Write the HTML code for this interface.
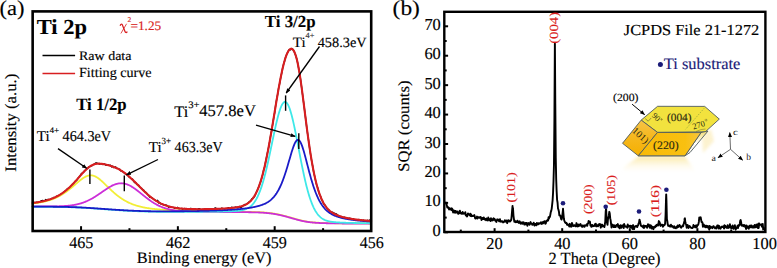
<!DOCTYPE html>
<html><head><meta charset="utf-8"><style>html,body{margin:0;padding:0;background:#fff;}svg{display:block;text-rendering:geometricPrecision;}</style></head><body>
<svg width="777" height="268" viewBox="0 0 777 268">
<defs><marker id="ah" viewBox="0 0 10 10" refX="9" refY="5" markerWidth="5" markerHeight="5" orient="auto" markerUnits="userSpaceOnUse"><path d="M0 1 L10 5 L0 9 z" fill="#000"/></marker><filter id="bl" x="-0.2" y="-0.2" width="1.4" height="1.4"><feGaussianBlur stdDeviation="1.6"/></filter><linearGradient id="refl" gradientUnits="userSpaceOnUse" x1="0" y1="156" x2="0" y2="174"><stop offset="0" stop-color="#fbe7a0" stop-opacity="1"/><stop offset="1" stop-color="#ffffff" stop-opacity="0"/></linearGradient><linearGradient id="lf" x1="0" y1="0" x2="0" y2="1"><stop offset="0" stop-color="#f7c448"/><stop offset="0.45" stop-color="#f6b820"/><stop offset="1" stop-color="#f5b000"/></linearGradient><linearGradient id="ff" x1="0" y1="0" x2="1" y2="0"><stop offset="0" stop-color="#f8ba08"/><stop offset="0.75" stop-color="#f9c010"/><stop offset="1" stop-color="#f7c640"/></linearGradient><linearGradient id="rf" x1="0" y1="0" x2="0" y2="1"><stop offset="0" stop-color="#f3dc70"/><stop offset="0.5" stop-color="#ffffff"/><stop offset="1" stop-color="#f5f0e0"/></linearGradient></defs>
<rect width="777" height="268" fill="#fff"/>
<g fill="none" stroke-linejoin="round" stroke-linecap="round">
<path d="M32.65 203.00L33.65 202.75L34.65 202.54L35.65 202.63L36.65 202.24L37.65 202.53L38.65 202.19L39.65 201.96L40.65 201.18L41.65 200.73L42.65 200.55L43.65 200.59L44.65 200.99L45.65 199.53L46.65 200.37L47.65 199.42L48.65 199.36L49.65 199.95L50.65 199.12L51.65 198.50L52.65 198.42L53.65 197.40L54.65 198.13L55.65 197.43L56.65 196.26L57.65 196.37L58.65 195.51L59.65 194.81L60.65 194.25L61.65 194.27L62.65 193.04L63.65 192.29L64.65 191.22L65.65 191.10L66.65 189.28L67.65 189.31L68.65 187.92L69.65 187.77L70.65 186.10L71.65 185.14L72.65 184.04L73.65 183.34L74.65 182.01L75.65 181.00L76.65 180.41L77.65 178.75L78.65 177.46L79.65 176.47L80.65 174.76L81.65 173.45L82.65 172.97L83.65 172.11L84.65 170.62L85.65 170.09L86.65 168.98L87.65 168.50L88.65 166.92L89.65 166.67L90.65 166.12L91.65 165.87L92.65 164.99L93.65 164.49L94.65 163.71L95.65 163.02L96.65 163.02L97.65 163.32L98.65 163.72L99.65 164.24L100.65 163.70L101.65 163.76L102.65 164.47L103.65 164.12L104.65 164.05L105.65 165.12L106.65 165.23L107.65 164.73L108.65 165.07L109.65 165.44L110.65 165.30L111.65 166.99L112.65 166.12L113.65 167.59L114.65 167.25L115.65 166.97L116.65 168.19L117.65 168.34L118.65 168.94L119.65 169.22L120.65 170.89L121.65 171.03L122.65 171.34L123.65 172.51L124.65 172.87L125.65 174.23L126.65 174.66L127.65 174.69L128.65 176.60L129.65 177.29L130.65 178.33L131.65 178.69L132.65 179.28L133.65 181.04L134.65 182.65L135.65 182.28L136.65 184.17L137.65 184.80L138.65 185.07L139.65 186.94L140.65 187.71L141.65 188.42L142.65 189.72L143.65 190.02L144.65 191.68L145.65 192.19L146.65 193.10L147.65 194.52L148.65 195.45L149.65 197.04L150.65 197.34L151.65 197.71L152.65 198.26L153.65 199.15L154.65 199.74L155.65 200.52L156.65 200.85L157.65 200.29L158.65 202.92L159.65 202.32L160.65 203.86L161.65 203.85L162.65 204.29L163.65 204.94L164.65 204.61L165.65 205.14L166.65 205.21L167.65 206.09L168.65 207.16L169.65 206.45L170.65 207.08L171.65 207.25L172.65 207.38L173.65 207.42L174.65 208.25L175.65 207.87L176.65 207.78L177.65 207.34L178.65 208.72L179.65 208.69L180.65 208.59L181.65 208.49L182.65 209.35L183.65 208.71L184.65 208.52L185.65 209.09L186.65 208.76L187.65 208.93L188.65 208.83L189.65 208.94L190.65 208.35L191.65 208.71L192.65 208.77L193.65 209.83L194.65 208.89L195.65 209.17L196.65 209.39L197.65 209.07L198.65 208.72L199.65 208.63L200.65 209.77L201.65 209.67L202.65 209.30L203.65 210.05L204.65 208.90L205.65 209.17L206.65 209.57L207.65 208.74L208.65 209.23L209.65 209.18L210.65 208.93L211.65 209.13L212.65 209.23L213.65 209.24L214.65 208.19L215.65 208.04L216.65 209.26L217.65 208.77L218.65 208.63L219.65 209.04L220.65 208.80L221.65 208.13L222.65 208.52L223.65 208.60L224.65 208.98L225.65 208.91L226.65 208.58L227.65 208.10L228.65 207.62L229.65 208.47L230.65 208.12L231.65 207.15L232.65 207.90L233.65 207.54L234.65 207.67L235.65 207.02L236.65 207.50L237.65 207.72L238.65 207.53L239.65 206.57L240.65 207.60L241.65 206.90L242.65 205.94L243.65 205.33L244.65 204.52L245.65 204.76L246.65 203.84L247.65 203.41L248.65 202.34L249.65 201.42L250.65 200.91L251.65 199.16L252.65 198.32L253.65 197.60L254.65 196.31L255.65 194.03L256.65 191.51L257.65 189.55L258.65 187.12L259.65 184.36L260.65 181.82L261.65 178.07L262.65 174.80L263.65 169.81L264.65 166.95L265.65 161.50L266.65 156.75L267.65 151.89L268.65 147.27L269.65 141.73L270.65 135.32L271.65 130.88L272.65 124.21L273.65 118.14L274.65 112.86L275.65 105.25L276.65 99.37L277.65 94.47L278.65 87.78L279.65 83.56L280.65 77.97L281.65 73.33L282.65 68.22L283.65 63.80L284.65 60.94L285.65 56.97L286.65 54.46L287.65 52.37L288.65 50.19L289.65 49.49L290.65 49.72L291.65 48.48L292.65 49.11L293.65 50.58L294.65 52.82L295.65 55.37L296.65 58.43L297.65 62.97L298.65 68.31L299.65 73.46L300.65 80.01L301.65 87.57L302.65 95.25L303.65 102.91L304.65 110.70L305.65 118.63L306.65 126.55L307.65 134.14L308.65 141.20L309.65 148.39L310.65 154.82L311.65 160.80L312.65 166.00L313.65 171.78L314.65 176.35L315.65 180.86L316.65 185.03L317.65 187.47L318.65 191.34L319.65 194.48L320.65 196.34L321.65 199.83L322.65 201.46L323.65 203.90L324.65 204.73L325.65 205.99L326.65 207.78L327.65 209.21L328.65 209.77L329.65 210.97L330.65 211.71L331.65 212.43L332.65 212.19L333.65 213.50L334.65 213.30L335.65 214.28L336.65 213.98L337.65 215.81L338.65 215.51L339.65 216.47L340.65 216.39L341.65 217.05L342.65 217.53L343.65 217.42L344.65 217.29L345.65 218.17L346.65 217.90L347.65 218.27L348.65 218.36L349.65 218.12L350.65 218.64L351.65 219.36L352.65 218.63L353.65 218.90L354.65 219.80L355.65 219.69L356.65 220.06L357.65 220.21L358.65 219.45L359.65 219.63L360.65 220.17L361.65 220.19L362.65 220.67L363.65 220.15L364.65 221.45L365.65 220.56L366.65 221.30L367.65 220.25L368.65 220.97L369.65 220.10L370.65 221.21" stroke="#000" stroke-width="1.4"/>
<path d="M32.65 203.46L33.15 203.40L33.65 203.34L34.15 203.28L34.65 203.22L35.15 203.16L35.65 203.10L36.15 203.03L36.65 202.96L37.15 202.89L37.65 202.81L38.15 202.74L38.65 202.66L39.15 202.58L39.65 202.50L40.15 202.41L40.65 202.32L41.15 202.23L41.65 202.14L42.15 202.04L42.65 201.94L43.15 201.83L43.65 201.73L44.15 201.62L44.65 201.50L45.15 201.39L45.65 201.26L46.15 201.14L46.65 201.01L47.15 200.88L47.65 200.74L48.15 200.60L48.65 200.45L49.15 200.30L49.65 200.15L50.15 199.99L50.65 199.82L51.15 199.65L51.65 199.48L52.15 199.30L52.65 199.11L53.15 198.92L53.65 198.73L54.15 198.52L54.65 198.32L55.15 198.10L55.65 197.88L56.15 197.66L56.65 197.43L57.15 197.19L57.65 196.95L58.15 196.70L58.65 196.44L59.15 196.18L59.65 195.91L60.15 195.63L60.65 195.35L61.15 195.06L61.65 194.77L62.15 194.47L62.65 194.16L63.15 193.84L63.65 193.52L64.15 193.19L64.65 192.86L65.15 192.51L65.65 192.17L66.15 191.81L66.65 191.45L67.15 191.08L67.65 190.71L68.15 190.33L68.65 189.95L69.15 189.56L69.65 189.16L70.15 188.76L70.65 188.35L71.15 187.94L71.65 187.53L72.15 187.11L72.65 186.69L73.15 186.27L73.65 185.84L74.15 185.41L74.65 184.98L75.15 184.55L75.65 184.11L76.15 183.68L76.65 183.25L77.15 182.82L77.65 182.39L78.15 181.97L78.65 181.55L79.15 181.13L79.65 180.72L80.15 180.32L80.65 179.92L81.15 179.54L81.65 179.16L82.15 178.80L82.65 178.45L83.15 178.11L83.65 177.78L84.15 177.47L84.65 177.18L85.15 176.91L85.65 176.65L86.15 176.42L86.65 176.21L87.15 176.02L87.65 175.85L88.15 175.71L88.65 175.59L89.15 175.49L89.65 175.42L90.15 175.38L90.65 175.37L91.15 175.38L91.65 175.42L92.15 175.48L92.65 175.57L93.15 175.69L93.65 175.83L94.15 176.00L94.65 176.20L95.15 176.42L95.65 176.66L96.15 176.92L96.65 177.21L97.15 177.52L97.65 177.84L98.15 178.19L98.65 178.55L99.15 178.93L99.65 179.32L100.15 179.73L100.65 180.15L101.15 180.58L101.65 181.02L102.15 181.47L102.65 181.93L103.15 182.40L103.65 182.87L104.15 183.35L104.65 183.83L105.15 184.31L105.65 184.80L106.15 185.29L106.65 185.78L107.15 186.27L107.65 186.76L108.15 187.25L108.65 187.73L109.15 188.22L109.65 188.70L110.15 189.18L110.65 189.65L111.15 190.12L111.65 190.58L112.15 191.05L112.65 191.50L113.15 191.95L113.65 192.40L114.15 192.83L114.65 193.27L115.15 193.69L115.65 194.11L116.15 194.52L116.65 194.93L117.15 195.33L117.65 195.72L118.15 196.11L118.65 196.49L119.15 196.86L119.65 197.22L120.15 197.58L120.65 197.93L121.15 198.27L121.65 198.61L122.15 198.94L122.65 199.26L123.15 199.57L123.65 199.88L124.15 200.18L124.65 200.47L125.15 200.76L125.65 201.04L126.15 201.31L126.65 201.58L127.15 201.84L127.65 202.09L128.15 202.34L128.65 202.58L129.15 202.81L129.65 203.04L130.15 203.26L130.65 203.48L131.15 203.69L131.65 203.90L132.15 204.09L132.65 204.29L133.15 204.48L133.65 204.66L134.15 204.84L134.65 205.01L135.15 205.18L135.65 205.34L136.15 205.50L136.65 205.66L137.15 205.81L137.65 205.95L138.15 206.09L138.65 206.23L139.15 206.36L139.65 206.49L140.15 206.62L140.65 206.74L141.15 206.86L141.65 206.97L142.15 207.08L142.65 207.19L143.15 207.30L143.65 207.40L144.15 207.50L144.65 207.59L145.15 207.68L145.65 207.78L146.15 207.86L146.65 207.95L147.15 208.03L147.65 208.11L148.15 208.19L148.65 208.26L149.15 208.34L149.65 208.41L150.15 208.48L150.65 208.55L151.15 208.61L151.65 208.67L152.15 208.74L152.65 208.80L153.15 208.86L153.65 208.91L154.15 208.97L154.65 209.02L155.15 209.07L155.65 209.12L156.15 209.17L156.65 209.22L157.15 209.27L157.65 209.32L158.15 209.36L158.65 209.40L159.15 209.45L159.65 209.49L160.15 209.53L160.65 209.57L161.15 209.61L161.65 209.64L162.15 209.68L162.65 209.72L163.15 209.75L163.65 209.79L164.15 209.82L164.65 209.85L165.15 209.88L165.65 209.91L166.15 209.94L166.65 209.97L167.15 210.00L167.65 210.03L168.15 210.06L168.65 210.09L169.15 210.11L169.65 210.14L170.15 210.17L170.65 210.19L171.15 210.22L171.65 210.24L172.15 210.26L172.65 210.29L173.15 210.31L173.65 210.33L174.15 210.35L174.65 210.38L175.15 210.40L175.65 210.42L176.15 210.44L176.65 210.46L177.15 210.48L177.65 210.50L178.15 210.52L178.65 210.53L179.15 210.55L179.65 210.57L180.15 210.59L180.65 210.61L181.15 210.62L181.65 210.64L182.15 210.66L182.65 210.67L183.15 210.69L183.65 210.70L184.15 210.72L184.65 210.74L185.15 210.75L185.65 210.77L186.15 210.78L186.65 210.79L187.15 210.81L187.65 210.82L188.15 210.84L188.65 210.85L189.15 210.86L189.65 210.88L190.15 210.89L190.65 210.90L191.15 210.92L191.65 210.93L192.15 210.94L192.65 210.95L193.15 210.96L193.65 210.98L194.15 210.99L194.65 211.00L195.15 211.01L195.65 211.02L196.15 211.03L196.65 211.04L197.15 211.06L197.65 211.07L198.15 211.08L198.65 211.09L199.15 211.10L199.65 211.11L200.15 211.12L200.65 211.13L201.15 211.14L201.65 211.15L202.15 211.16L202.65 211.17L203.15 211.18L203.65 211.19L204.15 211.19L204.65 211.20L205.15 211.21L205.65 211.22L206.15 211.23L206.65 211.24L207.15 211.25L207.65 211.26L208.15 211.27L208.65 211.27L209.15 211.28L209.65 211.29L210.15 211.30L210.65 211.31L211.15 211.31L211.65 211.32L212.15 211.33L212.65 211.34L213.15 211.35L213.65 211.35L214.15 211.36L214.65 211.37L215.15 211.38L215.65 211.38L216.15 211.39L216.65 211.40L217.15 211.41L217.65 211.41L218.15 211.42L218.65 211.43L219.15 211.44L219.65 211.44L220.15 211.45L220.65 211.46L221.15 211.46L221.65 211.47L222.15 211.48L222.65 211.48L223.15 211.49L223.65 211.50L224.15 211.51L224.65 211.51L225.15 211.52L225.65 211.53L226.15 211.53L226.65 211.54L227.15 211.55L227.65 211.55L228.15 211.56L228.65 211.57L229.15 211.57L229.65 211.58L230.15 211.58L230.65 211.59L231.15 211.60L231.65 211.60L232.15 211.61L232.65 211.62L233.15 211.62L233.65 211.63L234.15 211.64L234.65 211.64L235.15 211.65L235.65 211.66L236.15 211.66L236.65 211.67L237.15 211.68L237.65 211.68L238.15 211.69L238.65 211.70L239.15 211.70L239.65 211.71L240.15 211.72L240.65 211.72L241.15 211.73L241.65 211.74L242.15 211.75L242.65 211.75L243.15 211.76L243.65 211.77L244.15 211.78L244.65 211.78L245.15 211.79L245.65 211.80L246.15 211.81L246.65 211.82L247.15 211.83L247.65 211.84L248.15 211.84L248.65 211.85L249.15 211.86L249.65 211.87L250.15 211.88L250.65 211.90L251.15 211.91L251.65 211.92L252.15 211.93L252.65 211.94L253.15 211.96L253.65 211.97L254.15 211.98L254.65 212.00L255.15 212.01L255.65 212.03L256.15 212.05L256.65 212.07L257.15 212.08L257.65 212.10L258.15 212.13L258.65 212.15L259.15 212.17L259.65 212.19L260.15 212.22L260.65 212.24L261.15 212.27L261.65 212.30L262.15 212.33L262.65 212.36L263.15 212.40L263.65 212.43L264.15 212.47L264.65 212.51L265.15 212.55L265.65 212.59L266.15 212.63L266.65 212.68L267.15 212.73L267.65 212.78L268.15 212.83L268.65 212.89L269.15 212.94L269.65 213.00L270.15 213.06L270.65 213.13L271.15 213.19L271.65 213.26L272.15 213.33L272.65 213.41L273.15 213.48L273.65 213.56L274.15 213.65L274.65 213.73L275.15 213.82L275.65 213.91L276.15 214.00L276.65 214.09L277.15 214.19L277.65 214.29L278.15 214.39L278.65 214.50L279.15 214.61L279.65 214.72L280.15 214.83L280.65 214.94L281.15 215.06L281.65 215.18L282.15 215.30L282.65 215.42L283.15 215.55L283.65 215.68L284.15 215.80L284.65 215.94L285.15 216.07L285.65 216.20L286.15 216.34L286.65 216.47L287.15 216.61L287.65 216.75L288.15 216.89L288.65 217.03L289.15 217.17L289.65 217.31L290.15 217.46L290.65 217.60L291.15 217.74L291.65 217.89L292.15 218.03L292.65 218.17L293.15 218.32L293.65 218.46L294.15 218.60L294.65 218.74L295.15 218.88L295.65 219.02L296.15 219.16L296.65 219.30L297.15 219.44L297.65 219.57L298.15 219.70L298.65 219.84L299.15 219.96L299.65 220.09L300.15 220.21L300.65 220.34L301.15 220.45L301.65 220.57L302.15 220.68L302.65 220.79L303.15 220.90L303.65 221.00L304.15 221.10L304.65 221.20L305.15 221.29L305.65 221.38L306.15 221.47L306.65 221.55L307.15 221.63L307.65 221.71L308.15 221.79L308.65 221.86L309.15 221.92L309.65 221.99L310.15 222.05L310.65 222.11L311.15 222.17L311.65 222.22L312.15 222.28L312.65 222.33L313.15 222.37L313.65 222.42L314.15 222.46L314.65 222.50L315.15 222.54L315.65 222.58L316.15 222.61L316.65 222.65L317.15 222.68L317.65 222.71L318.15 222.74L318.65 222.77L319.15 222.79L319.65 222.82L320.15 222.84L320.65 222.87L321.15 222.89L321.65 222.91L322.15 222.93L322.65 222.95L323.15 222.97L323.65 222.98L324.15 223.00L324.65 223.01L325.15 223.03L325.65 223.04L326.15 223.06L326.65 223.07L327.15 223.08L327.65 223.10L328.15 223.11L328.65 223.12L329.15 223.13L329.65 223.14L330.15 223.15L330.65 223.16L331.15 223.17L331.65 223.18L332.15 223.19L332.65 223.20L333.15 223.21L333.65 223.21L334.15 223.22L334.65 223.23L335.15 223.24L335.65 223.24L336.15 223.25L336.65 223.26L337.15 223.26L337.65 223.27L338.15 223.28L338.65 223.28L339.15 223.29L339.65 223.29L340.15 223.30L340.65 223.31L341.15 223.31L341.65 223.32L342.15 223.32L342.65 223.33L343.15 223.33L343.65 223.34L344.15 223.34L344.65 223.34L345.15 223.35L345.65 223.35L346.15 223.36L346.65 223.36L347.15 223.37L347.65 223.37L348.15 223.37L348.65 223.38L349.15 223.38L349.65 223.38L350.15 223.39L350.65 223.39L351.15 223.40L351.65 223.40L352.15 223.40L352.65 223.40L353.15 223.41L353.65 223.41L354.15 223.41L354.65 223.42L355.15 223.42L355.65 223.42L356.15 223.43L356.65 223.43L357.15 223.43L357.65 223.43L358.15 223.44L358.65 223.44L359.15 223.44L359.65 223.44L360.15 223.45L360.65 223.45L361.15 223.45L361.65 223.45L362.15 223.45L362.65 223.46L363.15 223.46L363.65 223.46L364.15 223.46L364.65 223.46L365.15 223.47L365.65 223.47L366.15 223.47L366.65 223.47L367.15 223.47L367.65 223.47L368.15 223.48L368.65 223.48L369.15 223.48L369.65 223.48L370.15 223.48L370.65 223.48L371.15 223.49" stroke="#f2ee36" stroke-width="1.8"/>
<path d="M32.65 206.53L33.15 206.53L33.65 206.53L34.15 206.53L34.65 206.52L35.15 206.52L35.65 206.52L36.15 206.52L36.65 206.52L37.15 206.52L37.65 206.52L38.15 206.52L38.65 206.51L39.15 206.51L39.65 206.51L40.15 206.51L40.65 206.51L41.15 206.51L41.65 206.50L42.15 206.50L42.65 206.50L43.15 206.50L43.65 206.50L44.15 206.49L44.65 206.49L45.15 206.49L45.65 206.49L46.15 206.48L46.65 206.48L47.15 206.48L47.65 206.47L48.15 206.47L48.65 206.46L49.15 206.46L49.65 206.46L50.15 206.45L50.65 206.45L51.15 206.44L51.65 206.43L52.15 206.43L52.65 206.42L53.15 206.41L53.65 206.41L54.15 206.40L54.65 206.39L55.15 206.38L55.65 206.37L56.15 206.36L56.65 206.35L57.15 206.33L57.65 206.32L58.15 206.31L58.65 206.29L59.15 206.27L59.65 206.26L60.15 206.24L60.65 206.22L61.15 206.20L61.65 206.18L62.15 206.15L62.65 206.13L63.15 206.10L63.65 206.07L64.15 206.04L64.65 206.01L65.15 205.98L65.65 205.94L66.15 205.91L66.65 205.87L67.15 205.82L67.65 205.78L68.15 205.73L68.65 205.68L69.15 205.63L69.65 205.58L70.15 205.52L70.65 205.46L71.15 205.39L71.65 205.33L72.15 205.26L72.65 205.18L73.15 205.10L73.65 205.02L74.15 204.94L74.65 204.85L75.15 204.76L75.65 204.66L76.15 204.56L76.65 204.45L77.15 204.34L77.65 204.22L78.15 204.10L78.65 203.98L79.15 203.85L79.65 203.71L80.15 203.57L80.65 203.43L81.15 203.28L81.65 203.12L82.15 202.96L82.65 202.79L83.15 202.61L83.65 202.43L84.15 202.25L84.65 202.06L85.15 201.86L85.65 201.66L86.15 201.45L86.65 201.23L87.15 201.01L87.65 200.78L88.15 200.55L88.65 200.31L89.15 200.06L89.65 199.81L90.15 199.55L90.65 199.28L91.15 199.01L91.65 198.74L92.15 198.46L92.65 198.17L93.15 197.88L93.65 197.58L94.15 197.28L94.65 196.97L95.15 196.66L95.65 196.34L96.15 196.02L96.65 195.70L97.15 195.37L97.65 195.04L98.15 194.70L98.65 194.37L99.15 194.03L99.65 193.69L100.15 193.34L100.65 193.00L101.15 192.65L101.65 192.30L102.15 191.95L102.65 191.61L103.15 191.26L103.65 190.91L104.15 190.57L104.65 190.23L105.15 189.89L105.65 189.55L106.15 189.22L106.65 188.89L107.15 188.56L107.65 188.24L108.15 187.93L108.65 187.62L109.15 187.31L109.65 187.02L110.15 186.73L110.65 186.45L111.15 186.18L111.65 185.92L112.15 185.66L112.65 185.42L113.15 185.19L113.65 184.97L114.15 184.76L114.65 184.56L115.15 184.38L115.65 184.20L116.15 184.05L116.65 183.90L117.15 183.77L117.65 183.65L118.15 183.55L118.65 183.47L119.15 183.40L119.65 183.34L120.15 183.30L120.65 183.28L121.15 183.27L121.65 183.28L122.15 183.30L122.65 183.34L123.15 183.40L123.65 183.47L124.15 183.56L124.65 183.66L125.15 183.78L125.65 183.92L126.15 184.07L126.65 184.24L127.15 184.42L127.65 184.61L128.15 184.82L128.65 185.04L129.15 185.28L129.65 185.52L130.15 185.78L130.65 186.05L131.15 186.34L131.65 186.63L132.15 186.94L132.65 187.25L133.15 187.57L133.65 187.91L134.15 188.25L134.65 188.60L135.15 188.95L135.65 189.31L136.15 189.68L136.65 190.06L137.15 190.43L137.65 190.82L138.15 191.21L138.65 191.60L139.15 191.99L139.65 192.39L140.15 192.79L140.65 193.19L141.15 193.59L141.65 193.99L142.15 194.39L142.65 194.79L143.15 195.19L143.65 195.59L144.15 195.99L144.65 196.39L145.15 196.78L145.65 197.18L146.15 197.56L146.65 197.95L147.15 198.33L147.65 198.71L148.15 199.08L148.65 199.45L149.15 199.82L149.65 200.18L150.15 200.53L150.65 200.88L151.15 201.23L151.65 201.56L152.15 201.90L152.65 202.22L153.15 202.54L153.65 202.86L154.15 203.16L154.65 203.46L155.15 203.76L155.65 204.05L156.15 204.33L156.65 204.60L157.15 204.87L157.65 205.13L158.15 205.38L158.65 205.63L159.15 205.87L159.65 206.10L160.15 206.33L160.65 206.55L161.15 206.76L161.65 206.97L162.15 207.17L162.65 207.37L163.15 207.56L163.65 207.74L164.15 207.91L164.65 208.08L165.15 208.25L165.65 208.40L166.15 208.56L166.65 208.70L167.15 208.85L167.65 208.98L168.15 209.11L168.65 209.24L169.15 209.36L169.65 209.48L170.15 209.59L170.65 209.70L171.15 209.80L171.65 209.90L172.15 209.99L172.65 210.08L173.15 210.17L173.65 210.25L174.15 210.33L174.65 210.40L175.15 210.48L175.65 210.54L176.15 210.61L176.65 210.67L177.15 210.73L177.65 210.79L178.15 210.84L178.65 210.90L179.15 210.95L179.65 210.99L180.15 211.04L180.65 211.08L181.15 211.12L181.65 211.16L182.15 211.20L182.65 211.23L183.15 211.26L183.65 211.29L184.15 211.32L184.65 211.35L185.15 211.38L185.65 211.41L186.15 211.43L186.65 211.45L187.15 211.48L187.65 211.50L188.15 211.52L188.65 211.54L189.15 211.55L189.65 211.57L190.15 211.59L190.65 211.60L191.15 211.62L191.65 211.63L192.15 211.65L192.65 211.66L193.15 211.67L193.65 211.68L194.15 211.69L194.65 211.70L195.15 211.72L195.65 211.73L196.15 211.73L196.65 211.74L197.15 211.75L197.65 211.76L198.15 211.77L198.65 211.78L199.15 211.78L199.65 211.79L200.15 211.80L200.65 211.81L201.15 211.81L201.65 211.82L202.15 211.82L202.65 211.83L203.15 211.84L203.65 211.84L204.15 211.85L204.65 211.85L205.15 211.86L205.65 211.86L206.15 211.87L206.65 211.87L207.15 211.88L207.65 211.88L208.15 211.89L208.65 211.89L209.15 211.90L209.65 211.90L210.15 211.90L210.65 211.91L211.15 211.91L211.65 211.92L212.15 211.92L212.65 211.92L213.15 211.93L213.65 211.93L214.15 211.94L214.65 211.94L215.15 211.94L215.65 211.95L216.15 211.95L216.65 211.96L217.15 211.96L217.65 211.96L218.15 211.97L218.65 211.97L219.15 211.97L219.65 211.98L220.15 211.98L220.65 211.98L221.15 211.99L221.65 211.99L222.15 211.99L222.65 212.00L223.15 212.00L223.65 212.00L224.15 212.01L224.65 212.01L225.15 212.02L225.65 212.02L226.15 212.02L226.65 212.03L227.15 212.03L227.65 212.03L228.15 212.04L228.65 212.04L229.15 212.04L229.65 212.05L230.15 212.05L230.65 212.05L231.15 212.06L231.65 212.06L232.15 212.07L232.65 212.07L233.15 212.07L233.65 212.08L234.15 212.08L234.65 212.08L235.15 212.09L235.65 212.09L236.15 212.10L236.65 212.10L237.15 212.10L237.65 212.11L238.15 212.11L238.65 212.12L239.15 212.12L239.65 212.13L240.15 212.13L240.65 212.13L241.15 212.14L241.65 212.14L242.15 212.15L242.65 212.15L243.15 212.16L243.65 212.16L244.15 212.17L244.65 212.18L245.15 212.18L245.65 212.19L246.15 212.19L246.65 212.20L247.15 212.21L247.65 212.21L248.15 212.22L248.65 212.23L249.15 212.24L249.65 212.24L250.15 212.25L250.65 212.26L251.15 212.27L251.65 212.28L252.15 212.29L252.65 212.30L253.15 212.31L253.65 212.32L254.15 212.33L254.65 212.35L255.15 212.36L255.65 212.38L256.15 212.39L256.65 212.41L257.15 212.42L257.65 212.44L258.15 212.46L258.65 212.48L259.15 212.50L259.65 212.52L260.15 212.55L260.65 212.57L261.15 212.60L261.65 212.62L262.15 212.65L262.65 212.68L263.15 212.71L263.65 212.75L264.15 212.78L264.65 212.82L265.15 212.86L265.65 212.90L266.15 212.94L266.65 212.99L267.15 213.03L267.65 213.08L268.15 213.13L268.65 213.19L269.15 213.24L269.65 213.30L270.15 213.36L270.65 213.42L271.15 213.49L271.65 213.55L272.15 213.62L272.65 213.70L273.15 213.77L273.65 213.85L274.15 213.93L274.65 214.01L275.15 214.10L275.65 214.19L276.15 214.28L276.65 214.37L277.15 214.47L277.65 214.56L278.15 214.67L278.65 214.77L279.15 214.88L279.65 214.98L280.15 215.10L280.65 215.21L281.15 215.32L281.65 215.44L282.15 215.56L282.65 215.68L283.15 215.81L283.65 215.93L284.15 216.06L284.65 216.19L285.15 216.32L285.65 216.45L286.15 216.59L286.65 216.72L287.15 216.86L287.65 217.00L288.15 217.14L288.65 217.28L289.15 217.42L289.65 217.56L290.15 217.70L290.65 217.84L291.15 217.98L291.65 218.12L292.15 218.27L292.65 218.41L293.15 218.55L293.65 218.69L294.15 218.83L294.65 218.98L295.15 219.12L295.65 219.25L296.15 219.39L296.65 219.53L297.15 219.66L297.65 219.80L298.15 219.93L298.65 220.06L299.15 220.19L299.65 220.31L300.15 220.44L300.65 220.56L301.15 220.67L301.65 220.79L302.15 220.90L302.65 221.01L303.15 221.11L303.65 221.22L304.15 221.32L304.65 221.41L305.15 221.50L305.65 221.59L306.15 221.68L306.65 221.76L307.15 221.84L307.65 221.92L308.15 221.99L308.65 222.06L309.15 222.13L309.65 222.19L310.15 222.26L310.65 222.31L311.15 222.37L311.65 222.42L312.15 222.48L312.65 222.52L313.15 222.57L313.65 222.62L314.15 222.66L314.65 222.70L315.15 222.74L315.65 222.77L316.15 222.81L316.65 222.84L317.15 222.87L317.65 222.90L318.15 222.93L318.65 222.96L319.15 222.98L319.65 223.01L320.15 223.03L320.65 223.05L321.15 223.07L321.65 223.09L322.15 223.11L322.65 223.13L323.15 223.15L323.65 223.16L324.15 223.18L324.65 223.19L325.15 223.21L325.65 223.22L326.15 223.24L326.65 223.25L327.15 223.26L327.65 223.27L328.15 223.28L328.65 223.29L329.15 223.30L329.65 223.31L330.15 223.32L330.65 223.33L331.15 223.34L331.65 223.35L332.15 223.36L332.65 223.37L333.15 223.37L333.65 223.38L334.15 223.39L334.65 223.40L335.15 223.40L335.65 223.41L336.15 223.41L336.65 223.42L337.15 223.43L337.65 223.43L338.15 223.44L338.65 223.44L339.15 223.45L339.65 223.45L340.15 223.46L340.65 223.46L341.15 223.47L341.65 223.47L342.15 223.48L342.65 223.48L343.15 223.49L343.65 223.49L344.15 223.49L344.65 223.50L345.15 223.50L345.65 223.51L346.15 223.51L346.65 223.51L347.15 223.52L347.65 223.52L348.15 223.52L348.65 223.53L349.15 223.53L349.65 223.53L350.15 223.54L350.65 223.54L351.15 223.54L351.65 223.54L352.15 223.55L352.65 223.55L353.15 223.55L353.65 223.55L354.15 223.56L354.65 223.56L355.15 223.56L355.65 223.56L356.15 223.57L356.65 223.57L357.15 223.57L357.65 223.57L358.15 223.57L358.65 223.58L359.15 223.58L359.65 223.58L360.15 223.58L360.65 223.58L361.15 223.59L361.65 223.59L362.15 223.59L362.65 223.59L363.15 223.59L363.65 223.59L364.15 223.60L364.65 223.60L365.15 223.60L365.65 223.60L366.15 223.60L366.65 223.60L367.15 223.60L367.65 223.60L368.15 223.61L368.65 223.61L369.15 223.61L369.65 223.61L370.15 223.61L370.65 223.61L371.15 223.61" stroke="#cc2ed8" stroke-width="1.8"/>
<path d="M32.65 206.74L33.15 206.74L33.65 206.74L34.15 206.74L34.65 206.74L35.15 206.74L35.65 206.75L36.15 206.75L36.65 206.75L37.15 206.75L37.65 206.75L38.15 206.76L38.65 206.76L39.15 206.76L39.65 206.76L40.15 206.77L40.65 206.77L41.15 206.77L41.65 206.77L42.15 206.78L42.65 206.78L43.15 206.78L43.65 206.78L44.15 206.79L44.65 206.79L45.15 206.79L45.65 206.80L46.15 206.80L46.65 206.81L47.15 206.81L47.65 206.81L48.15 206.82L48.65 206.82L49.15 206.83L49.65 206.83L50.15 206.83L50.65 206.84L51.15 206.84L51.65 206.85L52.15 206.85L52.65 206.86L53.15 206.87L53.65 206.87L54.15 206.88L54.65 206.88L55.15 206.89L55.65 206.90L56.15 206.90L56.65 206.91L57.15 206.92L57.65 206.92L58.15 206.93L58.65 206.94L59.15 206.95L59.65 206.96L60.15 206.96L60.65 206.97L61.15 206.98L61.65 206.99L62.15 207.00L62.65 207.01L63.15 207.02L63.65 207.03L64.15 207.04L64.65 207.05L65.15 207.07L65.65 207.08L66.15 207.09L66.65 207.10L67.15 207.12L67.65 207.13L68.15 207.14L68.65 207.16L69.15 207.17L69.65 207.19L70.15 207.20L70.65 207.22L71.15 207.23L71.65 207.25L72.15 207.27L72.65 207.28L73.15 207.30L73.65 207.32L74.15 207.34L74.65 207.36L75.15 207.38L75.65 207.40L76.15 207.42L76.65 207.44L77.15 207.46L77.65 207.48L78.15 207.51L78.65 207.53L79.15 207.55L79.65 207.58L80.15 207.60L80.65 207.63L81.15 207.65L81.65 207.68L82.15 207.70L82.65 207.73L83.15 207.76L83.65 207.79L84.15 207.82L84.65 207.84L85.15 207.87L85.65 207.90L86.15 207.93L86.65 207.96L87.15 208.00L87.65 208.03L88.15 208.06L88.65 208.09L89.15 208.12L89.65 208.16L90.15 208.19L90.65 208.22L91.15 208.26L91.65 208.29L92.15 208.33L92.65 208.36L93.15 208.40L93.65 208.43L94.15 208.47L94.65 208.50L95.15 208.54L95.65 208.58L96.15 208.61L96.65 208.65L97.15 208.68L97.65 208.72L98.15 208.76L98.65 208.79L99.15 208.83L99.65 208.87L100.15 208.90L100.65 208.94L101.15 208.97L101.65 209.01L102.15 209.05L102.65 209.08L103.15 209.12L103.65 209.16L104.15 209.19L104.65 209.23L105.15 209.27L105.65 209.30L106.15 209.34L106.65 209.37L107.15 209.41L107.65 209.44L108.15 209.48L108.65 209.52L109.15 209.55L109.65 209.59L110.15 209.62L110.65 209.66L111.15 209.69L111.65 209.73L112.15 209.76L112.65 209.80L113.15 209.83L113.65 209.87L114.15 209.90L114.65 209.94L115.15 209.97L115.65 210.00L116.15 210.04L116.65 210.07L117.15 210.10L117.65 210.14L118.15 210.17L118.65 210.20L119.15 210.24L119.65 210.27L120.15 210.30L120.65 210.33L121.15 210.37L121.65 210.40L122.15 210.43L122.65 210.46L123.15 210.49L123.65 210.52L124.15 210.55L124.65 210.58L125.15 210.61L125.65 210.64L126.15 210.67L126.65 210.70L127.15 210.73L127.65 210.76L128.15 210.78L128.65 210.81L129.15 210.84L129.65 210.87L130.15 210.89L130.65 210.92L131.15 210.94L131.65 210.97L132.15 210.99L132.65 211.02L133.15 211.04L133.65 211.07L134.15 211.09L134.65 211.11L135.15 211.14L135.65 211.16L136.15 211.18L136.65 211.20L137.15 211.22L137.65 211.24L138.15 211.26L138.65 211.28L139.15 211.30L139.65 211.32L140.15 211.34L140.65 211.36L141.15 211.38L141.65 211.39L142.15 211.41L142.65 211.43L143.15 211.44L143.65 211.46L144.15 211.47L144.65 211.49L145.15 211.50L145.65 211.52L146.15 211.53L146.65 211.54L147.15 211.56L147.65 211.57L148.15 211.58L148.65 211.59L149.15 211.60L149.65 211.61L150.15 211.63L150.65 211.64L151.15 211.65L151.65 211.66L152.15 211.66L152.65 211.67L153.15 211.68L153.65 211.69L154.15 211.70L154.65 211.71L155.15 211.71L155.65 211.72L156.15 211.73L156.65 211.73L157.15 211.74L157.65 211.75L158.15 211.75L158.65 211.76L159.15 211.76L159.65 211.77L160.15 211.77L160.65 211.78L161.15 211.78L161.65 211.79L162.15 211.79L162.65 211.79L163.15 211.80L163.65 211.80L164.15 211.80L164.65 211.81L165.15 211.81L165.65 211.81L166.15 211.81L166.65 211.82L167.15 211.82L167.65 211.82L168.15 211.82L168.65 211.82L169.15 211.83L169.65 211.83L170.15 211.83L170.65 211.83L171.15 211.83L171.65 211.83L172.15 211.83L172.65 211.83L173.15 211.83L173.65 211.83L174.15 211.83L174.65 211.83L175.15 211.83L175.65 211.83L176.15 211.83L176.65 211.83L177.15 211.83L177.65 211.83L178.15 211.83L178.65 211.83L179.15 211.83L179.65 211.83L180.15 211.83L180.65 211.83L181.15 211.83L181.65 211.83L182.15 211.83L182.65 211.82L183.15 211.82L183.65 211.82L184.15 211.82L184.65 211.82L185.15 211.82L185.65 211.82L186.15 211.82L186.65 211.81L187.15 211.81L187.65 211.81L188.15 211.81L188.65 211.81L189.15 211.80L189.65 211.80L190.15 211.80L190.65 211.80L191.15 211.80L191.65 211.79L192.15 211.79L192.65 211.79L193.15 211.79L193.65 211.78L194.15 211.78L194.65 211.78L195.15 211.78L195.65 211.77L196.15 211.77L196.65 211.77L197.15 211.76L197.65 211.76L198.15 211.76L198.65 211.75L199.15 211.75L199.65 211.75L200.15 211.74L200.65 211.74L201.15 211.74L201.65 211.73L202.15 211.73L202.65 211.73L203.15 211.72L203.65 211.72L204.15 211.71L204.65 211.71L205.15 211.71L205.65 211.70L206.15 211.70L206.65 211.69L207.15 211.69L207.65 211.68L208.15 211.68L208.65 211.67L209.15 211.67L209.65 211.66L210.15 211.66L210.65 211.65L211.15 211.65L211.65 211.64L212.15 211.64L212.65 211.63L213.15 211.62L213.65 211.62L214.15 211.61L214.65 211.61L215.15 211.60L215.65 211.59L216.15 211.59L216.65 211.58L217.15 211.57L217.65 211.56L218.15 211.56L218.65 211.55L219.15 211.54L219.65 211.53L220.15 211.53L220.65 211.52L221.15 211.51L221.65 211.50L222.15 211.49L222.65 211.48L223.15 211.47L223.65 211.46L224.15 211.45L224.65 211.44L225.15 211.43L225.65 211.42L226.15 211.41L226.65 211.39L227.15 211.38L227.65 211.37L228.15 211.35L228.65 211.34L229.15 211.32L229.65 211.31L230.15 211.29L230.65 211.27L231.15 211.25L231.65 211.23L232.15 211.21L232.65 211.19L233.15 211.16L233.65 211.14L234.15 211.11L234.65 211.08L235.15 211.05L235.65 211.02L236.15 210.98L236.65 210.94L237.15 210.90L237.65 210.85L238.15 210.80L238.65 210.74L239.15 210.68L239.65 210.62L240.15 210.54L240.65 210.47L241.15 210.38L241.65 210.29L242.15 210.19L242.65 210.08L243.15 209.96L243.65 209.83L244.15 209.69L244.65 209.54L245.15 209.37L245.65 209.19L246.15 208.99L246.65 208.77L247.15 208.54L247.65 208.29L248.15 208.01L248.65 207.71L249.15 207.39L249.65 207.05L250.15 206.67L250.65 206.27L251.15 205.83L251.65 205.37L252.15 204.87L252.65 204.33L253.15 203.75L253.65 203.14L254.15 202.48L254.65 201.78L255.15 201.03L255.65 200.23L256.15 199.39L256.65 198.49L257.15 197.54L257.65 196.53L258.15 195.47L258.65 194.35L259.15 193.17L259.65 191.93L260.15 190.63L260.65 189.27L261.15 187.84L261.65 186.35L262.15 184.80L262.65 183.18L263.15 181.50L263.65 179.76L264.15 177.95L264.65 176.09L265.15 174.16L265.65 172.18L266.15 170.14L266.65 168.04L267.15 165.90L267.65 163.71L268.15 161.48L268.65 159.20L269.15 156.89L269.65 154.55L270.15 152.18L270.65 149.79L271.15 147.39L271.65 144.97L272.15 142.55L272.65 140.14L273.15 137.73L273.65 135.34L274.15 132.97L274.65 130.64L275.15 128.34L275.65 126.09L276.15 123.89L276.65 121.75L277.15 119.69L277.65 117.70L278.15 115.79L278.65 113.98L279.15 112.27L279.65 110.67L280.15 109.18L280.65 107.81L281.15 106.58L281.65 105.47L282.15 104.51L282.65 103.69L283.15 103.03L283.65 102.51L284.15 102.15L284.65 101.96L285.15 101.92L285.65 102.04L286.15 102.32L286.65 102.77L287.15 103.37L287.65 104.13L288.15 105.04L288.65 106.10L289.15 107.30L289.65 108.64L290.15 110.12L290.65 111.73L291.15 113.45L291.65 115.29L292.15 117.24L292.65 119.28L293.15 121.42L293.65 123.64L294.15 125.93L294.65 128.29L295.15 130.71L295.65 133.19L296.15 135.70L296.65 138.25L297.15 140.83L297.65 143.43L298.15 146.04L298.65 148.66L299.15 151.27L299.65 153.88L300.15 156.48L300.65 159.05L301.15 161.60L301.65 164.11L302.15 166.60L302.65 169.04L303.15 171.43L303.65 173.78L304.15 176.07L304.65 178.31L305.15 180.49L305.65 182.61L306.15 184.67L306.65 186.66L307.15 188.59L307.65 190.45L308.15 192.24L308.65 193.96L309.15 195.62L309.65 197.21L310.15 198.73L310.65 200.18L311.15 201.57L311.65 202.89L312.15 204.15L312.65 205.34L313.15 206.48L313.65 207.55L314.15 208.56L314.65 209.52L315.15 210.43L315.65 211.28L316.15 212.08L316.65 212.83L317.15 213.54L317.65 214.20L318.15 214.82L318.65 215.40L319.15 215.94L319.65 216.44L320.15 216.91L320.65 217.35L321.15 217.76L321.65 218.13L322.15 218.48L322.65 218.81L323.15 219.11L323.65 219.38L324.15 219.64L324.65 219.88L325.15 220.10L325.65 220.30L326.15 220.49L326.65 220.66L327.15 220.82L327.65 220.97L328.15 221.10L328.65 221.23L329.15 221.34L329.65 221.45L330.15 221.55L330.65 221.64L331.15 221.72L331.65 221.80L332.15 221.87L332.65 221.94L333.15 222.00L333.65 222.06L334.15 222.11L334.65 222.16L335.15 222.21L335.65 222.25L336.15 222.29L336.65 222.33L337.15 222.37L337.65 222.40L338.15 222.43L338.65 222.46L339.15 222.49L339.65 222.52L340.15 222.54L340.65 222.57L341.15 222.59L341.65 222.62L342.15 222.64L342.65 222.66L343.15 222.68L343.65 222.70L344.15 222.72L344.65 222.73L345.15 222.75L345.65 222.77L346.15 222.78L346.65 222.80L347.15 222.82L347.65 222.83L348.15 222.85L348.65 222.86L349.15 222.87L349.65 222.89L350.15 222.90L350.65 222.91L351.15 222.92L351.65 222.94L352.15 222.95L352.65 222.96L353.15 222.97L353.65 222.98L354.15 222.99L354.65 223.00L355.15 223.01L355.65 223.02L356.15 223.03L356.65 223.04L357.15 223.05L357.65 223.06L358.15 223.07L358.65 223.08L359.15 223.09L359.65 223.10L360.15 223.11L360.65 223.11L361.15 223.12L361.65 223.13L362.15 223.14L362.65 223.14L363.15 223.15L363.65 223.16L364.15 223.17L364.65 223.17L365.15 223.18L365.65 223.19L366.15 223.19L366.65 223.20L367.15 223.21L367.65 223.21L368.15 223.22L368.65 223.22L369.15 223.23L369.65 223.23L370.15 223.24L370.65 223.25L371.15 223.25" stroke="#3ee8e8" stroke-width="1.8"/>
<path d="M32.65 206.62L33.15 206.62L33.65 206.62L34.15 206.62L34.65 206.62L35.15 206.62L35.65 206.63L36.15 206.63L36.65 206.63L37.15 206.63L37.65 206.63L38.15 206.63L38.65 206.64L39.15 206.64L39.65 206.64L40.15 206.64L40.65 206.64L41.15 206.65L41.65 206.65L42.15 206.65L42.65 206.65L43.15 206.65L43.65 206.66L44.15 206.66L44.65 206.66L45.15 206.67L45.65 206.67L46.15 206.67L46.65 206.67L47.15 206.68L47.65 206.68L48.15 206.69L48.65 206.69L49.15 206.69L49.65 206.70L50.15 206.70L50.65 206.70L51.15 206.71L51.65 206.71L52.15 206.72L52.65 206.72L53.15 206.73L53.65 206.73L54.15 206.74L54.65 206.74L55.15 206.75L55.65 206.76L56.15 206.76L56.65 206.77L57.15 206.77L57.65 206.78L58.15 206.79L58.65 206.80L59.15 206.80L59.65 206.81L60.15 206.82L60.65 206.83L61.15 206.84L61.65 206.84L62.15 206.85L62.65 206.86L63.15 206.87L63.65 206.88L64.15 206.89L64.65 206.90L65.15 206.91L65.65 206.93L66.15 206.94L66.65 206.95L67.15 206.96L67.65 206.97L68.15 206.99L68.65 207.00L69.15 207.01L69.65 207.03L70.15 207.04L70.65 207.06L71.15 207.07L71.65 207.09L72.15 207.11L72.65 207.12L73.15 207.14L73.65 207.16L74.15 207.17L74.65 207.19L75.15 207.21L75.65 207.23L76.15 207.25L76.65 207.27L77.15 207.29L77.65 207.31L78.15 207.34L78.65 207.36L79.15 207.38L79.65 207.40L80.15 207.43L80.65 207.45L81.15 207.48L81.65 207.50L82.15 207.53L82.65 207.56L83.15 207.58L83.65 207.61L84.15 207.64L84.65 207.67L85.15 207.69L85.65 207.72L86.15 207.75L86.65 207.78L87.15 207.81L87.65 207.84L88.15 207.87L88.65 207.91L89.15 207.94L89.65 207.97L90.15 208.00L90.65 208.04L91.15 208.07L91.65 208.10L92.15 208.14L92.65 208.17L93.15 208.20L93.65 208.24L94.15 208.27L94.65 208.31L95.15 208.34L95.65 208.38L96.15 208.41L96.65 208.45L97.15 208.48L97.65 208.52L98.15 208.55L98.65 208.59L99.15 208.62L99.65 208.66L100.15 208.69L100.65 208.73L101.15 208.77L101.65 208.80L102.15 208.84L102.65 208.87L103.15 208.91L103.65 208.94L104.15 208.98L104.65 209.01L105.15 209.05L105.65 209.08L106.15 209.12L106.65 209.15L107.15 209.19L107.65 209.22L108.15 209.26L108.65 209.29L109.15 209.32L109.65 209.36L110.15 209.39L110.65 209.43L111.15 209.46L111.65 209.50L112.15 209.53L112.65 209.56L113.15 209.60L113.65 209.63L114.15 209.66L114.65 209.70L115.15 209.73L115.65 209.76L116.15 209.79L116.65 209.83L117.15 209.86L117.65 209.89L118.15 209.92L118.65 209.95L119.15 209.98L119.65 210.02L120.15 210.05L120.65 210.08L121.15 210.11L121.65 210.14L122.15 210.17L122.65 210.20L123.15 210.23L123.65 210.26L124.15 210.29L124.65 210.31L125.15 210.34L125.65 210.37L126.15 210.40L126.65 210.43L127.15 210.45L127.65 210.48L128.15 210.51L128.65 210.53L129.15 210.56L129.65 210.58L130.15 210.61L130.65 210.63L131.15 210.66L131.65 210.68L132.15 210.70L132.65 210.73L133.15 210.75L133.65 210.77L134.15 210.79L134.65 210.81L135.15 210.84L135.65 210.86L136.15 210.88L136.65 210.90L137.15 210.91L137.65 210.93L138.15 210.95L138.65 210.97L139.15 210.99L139.65 211.00L140.15 211.02L140.65 211.04L141.15 211.05L141.65 211.07L142.15 211.08L142.65 211.10L143.15 211.11L143.65 211.12L144.15 211.14L144.65 211.15L145.15 211.16L145.65 211.17L146.15 211.19L146.65 211.20L147.15 211.21L147.65 211.22L148.15 211.23L148.65 211.24L149.15 211.25L149.65 211.25L150.15 211.26L150.65 211.27L151.15 211.28L151.65 211.29L152.15 211.29L152.65 211.30L153.15 211.31L153.65 211.31L154.15 211.32L154.65 211.32L155.15 211.33L155.65 211.33L156.15 211.34L156.65 211.34L157.15 211.34L157.65 211.35L158.15 211.35L158.65 211.35L159.15 211.35L159.65 211.36L160.15 211.36L160.65 211.36L161.15 211.36L161.65 211.36L162.15 211.36L162.65 211.36L163.15 211.37L163.65 211.37L164.15 211.37L164.65 211.37L165.15 211.37L165.65 211.36L166.15 211.36L166.65 211.36L167.15 211.36L167.65 211.36L168.15 211.36L168.65 211.36L169.15 211.36L169.65 211.35L170.15 211.35L170.65 211.35L171.15 211.35L171.65 211.34L172.15 211.34L172.65 211.34L173.15 211.33L173.65 211.33L174.15 211.33L174.65 211.32L175.15 211.32L175.65 211.32L176.15 211.31L176.65 211.31L177.15 211.30L177.65 211.30L178.15 211.29L178.65 211.29L179.15 211.28L179.65 211.28L180.15 211.27L180.65 211.27L181.15 211.26L181.65 211.26L182.15 211.25L182.65 211.25L183.15 211.24L183.65 211.24L184.15 211.23L184.65 211.22L185.15 211.22L185.65 211.21L186.15 211.20L186.65 211.20L187.15 211.19L187.65 211.18L188.15 211.18L188.65 211.17L189.15 211.16L189.65 211.15L190.15 211.15L190.65 211.14L191.15 211.13L191.65 211.12L192.15 211.11L192.65 211.11L193.15 211.10L193.65 211.09L194.15 211.08L194.65 211.07L195.15 211.06L195.65 211.05L196.15 211.04L196.65 211.03L197.15 211.02L197.65 211.01L198.15 211.00L198.65 210.99L199.15 210.98L199.65 210.97L200.15 210.96L200.65 210.95L201.15 210.94L201.65 210.93L202.15 210.92L202.65 210.91L203.15 210.89L203.65 210.88L204.15 210.87L204.65 210.86L205.15 210.85L205.65 210.83L206.15 210.82L206.65 210.81L207.15 210.79L207.65 210.78L208.15 210.77L208.65 210.75L209.15 210.74L209.65 210.72L210.15 210.71L210.65 210.69L211.15 210.68L211.65 210.66L212.15 210.65L212.65 210.63L213.15 210.61L213.65 210.60L214.15 210.58L214.65 210.56L215.15 210.54L215.65 210.53L216.15 210.51L216.65 210.49L217.15 210.47L217.65 210.45L218.15 210.43L218.65 210.41L219.15 210.39L219.65 210.37L220.15 210.35L220.65 210.33L221.15 210.31L221.65 210.28L222.15 210.26L222.65 210.24L223.15 210.21L223.65 210.19L224.15 210.16L224.65 210.14L225.15 210.11L225.65 210.09L226.15 210.06L226.65 210.03L227.15 210.01L227.65 209.98L228.15 209.95L228.65 209.92L229.15 209.89L229.65 209.86L230.15 209.83L230.65 209.79L231.15 209.76L231.65 209.73L232.15 209.69L232.65 209.66L233.15 209.62L233.65 209.59L234.15 209.55L234.65 209.51L235.15 209.47L235.65 209.43L236.15 209.39L236.65 209.35L237.15 209.31L237.65 209.26L238.15 209.22L238.65 209.17L239.15 209.13L239.65 209.08L240.15 209.03L240.65 208.98L241.15 208.93L241.65 208.88L242.15 208.82L242.65 208.77L243.15 208.71L243.65 208.65L244.15 208.59L244.65 208.53L245.15 208.47L245.65 208.41L246.15 208.34L246.65 208.27L247.15 208.20L247.65 208.13L248.15 208.06L248.65 207.99L249.15 207.91L249.65 207.83L250.15 207.75L250.65 207.67L251.15 207.58L251.65 207.49L252.15 207.40L252.65 207.31L253.15 207.22L253.65 207.12L254.15 207.02L254.65 206.91L255.15 206.80L255.65 206.69L256.15 206.58L256.65 206.46L257.15 206.34L257.65 206.21L258.15 206.08L258.65 205.94L259.15 205.80L259.65 205.65L260.15 205.50L260.65 205.34L261.15 205.18L261.65 205.01L262.15 204.83L262.65 204.64L263.15 204.45L263.65 204.25L264.15 204.03L264.65 203.81L265.15 203.58L265.65 203.33L266.15 203.08L266.65 202.81L267.15 202.52L267.65 202.22L268.15 201.91L268.65 201.58L269.15 201.23L269.65 200.87L270.15 200.48L270.65 200.08L271.15 199.65L271.65 199.20L272.15 198.72L272.65 198.22L273.15 197.69L273.65 197.14L274.15 196.55L274.65 195.93L275.15 195.28L275.65 194.60L276.15 193.88L276.65 193.13L277.15 192.34L277.65 191.51L278.15 190.64L278.65 189.73L279.15 188.77L279.65 187.78L280.15 186.74L280.65 185.65L281.15 184.52L281.65 183.34L282.15 182.12L282.65 180.85L283.15 179.53L283.65 178.17L284.15 176.76L284.65 175.30L285.15 173.81L285.65 172.27L286.15 170.69L286.65 169.08L287.15 167.44L287.65 165.76L288.15 164.06L288.65 162.35L289.15 160.62L289.65 158.89L290.15 157.17L290.65 155.45L291.15 153.77L291.65 152.11L292.15 150.51L292.65 148.97L293.15 147.50L293.65 146.12L294.15 144.84L294.65 143.68L295.15 142.65L295.65 141.76L296.15 141.03L296.65 140.47L297.15 140.08L297.65 139.88L298.15 139.86L298.65 140.03L299.15 140.39L299.65 140.93L300.15 141.65L300.65 142.54L301.15 143.59L301.65 144.79L302.15 146.13L302.65 147.59L303.15 149.16L303.65 150.83L304.15 152.57L304.65 154.38L305.15 156.24L305.65 158.14L306.15 160.06L306.65 162.01L307.15 163.96L307.65 165.90L308.15 167.84L308.65 169.75L309.15 171.65L309.65 173.51L310.15 175.34L310.65 177.13L311.15 178.88L311.65 180.58L312.15 182.24L312.65 183.85L313.15 185.42L313.65 186.93L314.15 188.39L314.65 189.80L315.15 191.16L315.65 192.47L316.15 193.73L316.65 194.94L317.15 196.11L317.65 197.22L318.15 198.29L318.65 199.31L319.15 200.29L319.65 201.23L320.15 202.12L320.65 202.97L321.15 203.78L321.65 204.56L322.15 205.30L322.65 206.00L323.15 206.67L323.65 207.30L324.15 207.91L324.65 208.48L325.15 209.03L325.65 209.55L326.15 210.05L326.65 210.52L327.15 210.97L327.65 211.39L328.15 211.80L328.65 212.18L329.15 212.55L329.65 212.89L330.15 213.23L330.65 213.54L331.15 213.84L331.65 214.13L332.15 214.40L332.65 214.67L333.15 214.92L333.65 215.15L334.15 215.38L334.65 215.60L335.15 215.81L335.65 216.01L336.15 216.20L336.65 216.39L337.15 216.56L337.65 216.74L338.15 216.90L338.65 217.06L339.15 217.21L339.65 217.36L340.15 217.50L340.65 217.63L341.15 217.77L341.65 217.89L342.15 218.02L342.65 218.13L343.15 218.25L343.65 218.36L344.15 218.47L344.65 218.58L345.15 218.68L345.65 218.78L346.15 218.87L346.65 218.96L347.15 219.06L347.65 219.14L348.15 219.23L348.65 219.31L349.15 219.39L349.65 219.47L350.15 219.55L350.65 219.62L351.15 219.69L351.65 219.76L352.15 219.83L352.65 219.90L353.15 219.97L353.65 220.03L354.15 220.09L354.65 220.15L355.15 220.21L355.65 220.27L356.15 220.33L356.65 220.38L357.15 220.43L357.65 220.49L358.15 220.54L358.65 220.59L359.15 220.64L359.65 220.68L360.15 220.73L360.65 220.78L361.15 220.82L361.65 220.86L362.15 220.91L362.65 220.95L363.15 220.99L363.65 221.03L364.15 221.07L364.65 221.11L365.15 221.14L365.65 221.18L366.15 221.22L366.65 221.25L367.15 221.29L367.65 221.32L368.15 221.35L368.65 221.38L369.15 221.42L369.65 221.45L370.15 221.48L370.65 221.51L371.15 221.54" stroke="#1a1ac8" stroke-width="1.8"/>
<path d="M32.65 202.99L33.15 202.93L33.65 202.87L34.15 202.81L34.65 202.74L35.15 202.68L35.65 202.61L36.15 202.54L36.65 202.46L37.15 202.39L37.65 202.31L38.15 202.23L38.65 202.15L39.15 202.06L39.65 201.97L40.15 201.88L40.65 201.79L41.15 201.69L41.65 201.59L42.15 201.49L42.65 201.38L43.15 201.27L43.65 201.16L44.15 201.04L44.65 200.92L45.15 200.80L45.65 200.67L46.15 200.53L46.65 200.40L47.15 200.26L47.65 200.11L48.15 199.96L48.65 199.80L49.15 199.64L49.65 199.48L50.15 199.31L50.65 199.13L51.15 198.95L51.65 198.76L52.15 198.57L52.65 198.37L53.15 198.17L53.65 197.96L54.15 197.74L54.65 197.51L55.15 197.28L55.65 197.05L56.15 196.80L56.65 196.55L57.15 196.29L57.65 196.03L58.15 195.76L58.65 195.47L59.15 195.19L59.65 194.89L60.15 194.59L60.65 194.28L61.15 193.96L61.65 193.63L62.15 193.29L62.65 192.95L63.15 192.59L63.65 192.23L64.15 191.86L64.65 191.48L65.15 191.09L65.65 190.69L66.15 190.29L66.65 189.87L67.15 189.45L67.65 189.02L68.15 188.58L68.65 188.13L69.15 187.67L69.65 187.20L70.15 186.73L70.65 186.24L71.15 185.75L71.65 185.25L72.15 184.75L72.65 184.23L73.15 183.71L73.65 183.18L74.15 182.64L74.65 182.10L75.15 181.56L75.65 181.00L76.15 180.45L76.65 179.89L77.15 179.32L77.65 178.76L78.15 178.19L78.65 177.62L79.15 177.05L79.65 176.47L80.15 175.91L80.65 175.34L81.15 174.77L81.65 174.21L82.15 173.66L82.65 173.11L83.15 172.57L83.65 172.03L84.15 171.51L84.65 170.99L85.15 170.49L85.65 170.00L86.15 169.52L86.65 169.06L87.15 168.62L87.65 168.19L88.15 167.78L88.65 167.38L89.15 167.01L89.65 166.65L90.15 166.32L90.65 166.00L91.15 165.71L91.65 165.43L92.15 165.18L92.65 164.95L93.15 164.74L93.65 164.54L94.15 164.37L94.65 164.22L95.15 164.09L95.65 163.98L96.15 163.89L96.65 163.81L97.15 163.75L97.65 163.71L98.15 163.68L98.65 163.66L99.15 163.66L99.65 163.67L100.15 163.70L100.65 163.73L101.15 163.78L101.65 163.84L102.15 163.90L102.65 163.97L103.15 164.05L103.65 164.14L104.15 164.24L104.65 164.34L105.15 164.44L105.65 164.55L106.15 164.67L106.65 164.79L107.15 164.92L107.65 165.05L108.15 165.18L108.65 165.32L109.15 165.46L109.65 165.61L110.15 165.76L110.65 165.92L111.15 166.08L111.65 166.24L112.15 166.41L112.65 166.59L113.15 166.77L113.65 166.96L114.15 167.15L114.65 167.35L115.15 167.55L115.65 167.76L116.15 167.98L116.65 168.20L117.15 168.43L117.65 168.67L118.15 168.92L118.65 169.18L119.15 169.44L119.65 169.72L120.15 170.00L120.65 170.29L121.15 170.59L121.65 170.90L122.15 171.21L122.65 171.54L123.15 171.88L123.65 172.22L124.15 172.58L124.65 172.94L125.15 173.31L125.65 173.70L126.15 174.09L126.65 174.49L127.15 174.89L127.65 175.31L128.15 175.73L128.65 176.16L129.15 176.60L129.65 177.05L130.15 177.50L130.65 177.96L131.15 178.42L131.65 178.89L132.15 179.36L132.65 179.84L133.15 180.33L133.65 180.82L134.15 181.31L134.65 181.80L135.15 182.30L135.65 182.80L136.15 183.30L136.65 183.80L137.15 184.30L137.65 184.81L138.15 185.31L138.65 185.81L139.15 186.32L139.65 186.82L140.15 187.32L140.65 187.82L141.15 188.32L141.65 188.81L142.15 189.30L142.65 189.79L143.15 190.27L143.65 190.76L144.15 191.23L144.65 191.71L145.15 192.17L145.65 192.64L146.15 193.09L146.65 193.55L147.15 193.99L147.65 194.43L148.15 194.87L148.65 195.29L149.15 195.72L149.65 196.13L150.15 196.54L150.65 196.94L151.15 197.33L151.65 197.72L152.15 198.10L152.65 198.47L153.15 198.83L153.65 199.19L154.15 199.53L154.65 199.88L155.15 200.21L155.65 200.53L156.15 200.85L156.65 201.16L157.15 201.46L157.65 201.75L158.15 202.04L158.65 202.32L159.15 202.59L159.65 202.85L160.15 203.11L160.65 203.35L161.15 203.60L161.65 203.83L162.15 204.05L162.65 204.27L163.15 204.48L163.65 204.69L164.15 204.89L164.65 205.08L165.15 205.26L165.65 205.44L166.15 205.62L166.65 205.78L167.15 205.94L167.65 206.10L168.15 206.24L168.65 206.39L169.15 206.52L169.65 206.66L170.15 206.78L170.65 206.90L171.15 207.02L171.65 207.13L172.15 207.24L172.65 207.34L173.15 207.44L173.65 207.54L174.15 207.63L174.65 207.72L175.15 207.80L175.65 207.88L176.15 207.95L176.65 208.02L177.15 208.09L177.65 208.16L178.15 208.22L178.65 208.28L179.15 208.34L179.65 208.39L180.15 208.44L180.65 208.49L181.15 208.54L181.65 208.58L182.15 208.63L182.65 208.67L183.15 208.70L183.65 208.74L184.15 208.77L184.65 208.80L185.15 208.84L185.65 208.86L186.15 208.89L186.65 208.92L187.15 208.94L187.65 208.96L188.15 208.98L188.65 209.00L189.15 209.02L189.65 209.04L190.15 209.06L190.65 209.07L191.15 209.08L191.65 209.10L192.15 209.11L192.65 209.12L193.15 209.13L193.65 209.14L194.15 209.15L194.65 209.16L195.15 209.16L195.65 209.17L196.15 209.17L196.65 209.18L197.15 209.18L197.65 209.19L198.15 209.19L198.65 209.19L199.15 209.19L199.65 209.19L200.15 209.19L200.65 209.19L201.15 209.19L201.65 209.19L202.15 209.18L202.65 209.18L203.15 209.18L203.65 209.17L204.15 209.17L204.65 209.16L205.15 209.16L205.65 209.15L206.15 209.14L206.65 209.14L207.15 209.13L207.65 209.12L208.15 209.11L208.65 209.10L209.15 209.09L209.65 209.08L210.15 209.07L210.65 209.06L211.15 209.05L211.65 209.03L212.15 209.02L212.65 209.01L213.15 208.99L213.65 208.98L214.15 208.96L214.65 208.95L215.15 208.93L215.65 208.91L216.15 208.90L216.65 208.88L217.15 208.86L217.65 208.84L218.15 208.82L218.65 208.80L219.15 208.77L219.65 208.75L220.15 208.73L220.65 208.70L221.15 208.68L221.65 208.65L222.15 208.63L222.65 208.60L223.15 208.57L223.65 208.54L224.15 208.51L224.65 208.48L225.15 208.45L225.65 208.42L226.15 208.39L226.65 208.35L227.15 208.32L227.65 208.28L228.15 208.24L228.65 208.20L229.15 208.16L229.65 208.12L230.15 208.07L230.65 208.03L231.15 207.98L231.65 207.93L232.15 207.88L232.65 207.82L233.15 207.77L233.65 207.71L234.15 207.64L234.65 207.58L235.15 207.51L235.65 207.44L236.15 207.37L236.65 207.29L237.15 207.20L237.65 207.11L238.15 207.02L238.65 206.92L239.15 206.82L239.65 206.71L240.15 206.59L240.65 206.46L241.15 206.33L241.65 206.18L242.15 206.03L242.65 205.87L243.15 205.69L243.65 205.50L244.15 205.30L244.65 205.09L245.15 204.86L245.65 204.61L246.15 204.35L246.65 204.06L247.15 203.76L247.65 203.43L248.15 203.08L248.65 202.71L249.15 202.31L249.65 201.88L250.15 201.42L250.65 200.93L251.15 200.41L251.65 199.85L252.15 199.25L252.65 198.62L253.15 197.94L253.65 197.22L254.15 196.45L254.65 195.63L255.15 194.77L255.65 193.85L256.15 192.88L256.65 191.85L257.15 190.77L257.65 189.62L258.15 188.41L258.65 187.14L259.15 185.80L259.65 184.40L260.15 182.93L260.65 181.39L261.15 179.77L261.65 178.09L262.15 176.33L262.65 174.50L263.15 172.60L263.65 170.62L264.15 168.58L264.65 166.45L265.15 164.26L265.65 161.99L266.15 159.66L266.65 157.26L267.15 154.79L267.65 152.25L268.15 149.66L268.65 147.00L269.15 144.29L269.65 141.53L270.15 138.72L270.65 135.87L271.15 132.97L271.65 130.04L272.15 127.08L272.65 124.10L273.15 121.09L273.65 118.07L274.15 115.04L274.65 112.00L275.15 108.98L275.65 105.96L276.15 102.95L276.65 99.97L277.15 97.02L277.65 94.11L278.15 91.23L278.65 88.41L279.15 85.64L279.65 82.94L280.15 80.30L280.65 77.74L281.15 75.26L281.65 72.86L282.15 70.56L282.65 68.35L283.15 66.24L283.65 64.24L284.15 62.35L284.65 60.57L285.15 58.91L285.65 57.36L286.15 55.94L286.65 54.64L287.15 53.46L287.65 52.41L288.15 51.49L288.65 50.70L289.15 50.04L289.65 49.51L290.15 49.12L290.65 48.88L291.15 48.77L291.65 48.82L292.15 49.02L292.65 49.38L293.15 49.91L293.65 50.61L294.15 51.49L294.65 52.55L295.15 53.80L295.65 55.25L296.15 56.90L296.65 58.76L297.15 60.82L297.65 63.08L298.15 65.54L298.65 68.20L299.15 71.05L299.65 74.07L300.15 77.27L300.65 80.62L301.15 84.10L301.65 87.71L302.15 91.41L302.65 95.21L303.15 99.07L303.65 102.98L304.15 106.92L304.65 110.87L305.15 114.82L305.65 118.75L306.15 122.65L306.65 126.51L307.15 130.31L307.65 134.04L308.15 137.69L308.65 141.27L309.15 144.75L309.65 148.14L310.15 151.43L310.65 154.62L311.15 157.70L311.65 160.67L312.15 163.54L312.65 166.30L313.15 168.95L313.65 171.49L314.15 173.93L314.65 176.26L315.15 178.49L315.65 180.62L316.15 182.65L316.65 184.58L317.15 186.42L317.65 188.17L318.15 189.83L318.65 191.40L319.15 192.90L319.65 194.31L320.15 195.65L320.65 196.92L321.15 198.12L321.65 199.25L322.15 200.32L322.65 201.33L323.15 202.29L323.65 203.19L324.15 204.04L324.65 204.84L325.15 205.59L325.65 206.30L326.15 206.97L326.65 207.60L327.15 208.20L327.65 208.76L328.15 209.29L328.65 209.79L329.15 210.26L329.65 210.71L330.15 211.13L330.65 211.53L331.15 211.91L331.65 212.26L332.15 212.60L332.65 212.93L333.15 213.23L333.65 213.52L334.15 213.80L334.65 214.06L335.15 214.31L335.65 214.55L336.15 214.78L336.65 214.99L337.15 215.20L337.65 215.40L338.15 215.59L338.65 215.78L339.15 215.96L339.65 216.13L340.15 216.29L340.65 216.45L341.15 216.60L341.65 216.75L342.15 216.89L342.65 217.02L343.15 217.16L343.65 217.28L344.15 217.41L344.65 217.53L345.15 217.64L345.65 217.76L346.15 217.87L346.65 217.97L347.15 218.08L347.65 218.18L348.15 218.28L348.65 218.37L349.15 218.46L349.65 218.55L350.15 218.64L350.65 218.73L351.15 218.81L351.65 218.89L352.15 218.97L352.65 219.05L353.15 219.12L353.65 219.19L354.15 219.27L354.65 219.34L355.15 219.40L355.65 219.47L356.15 219.53L356.65 219.60L357.15 219.66L357.65 219.72L358.15 219.78L358.65 219.84L359.15 219.89L359.65 219.95L360.15 220.00L360.65 220.06L361.15 220.11L361.65 220.16L362.15 220.21L362.65 220.26L363.15 220.30L363.65 220.35L364.15 220.40L364.65 220.44L365.15 220.48L365.65 220.53L366.15 220.57L366.65 220.61L367.15 220.65L367.65 220.69L368.15 220.73L368.65 220.77L369.15 220.80L369.65 220.84L370.15 220.88L370.65 220.91L371.15 220.94" stroke="#d81e20" stroke-width="2.1"/>
</g>
<rect x="32.65" y="11.40" width="338.55" height="219.60" fill="none" stroke="#000" stroke-width="2.6"/>
<line x1="81.06" y1="231.00" x2="81.06" y2="226.20" stroke="#000" stroke-width="2"/>
<line x1="177.87" y1="231.00" x2="177.87" y2="226.20" stroke="#000" stroke-width="2"/>
<line x1="274.68" y1="231.00" x2="274.68" y2="226.20" stroke="#000" stroke-width="2"/>
<line x1="129.46" y1="231.00" x2="129.46" y2="228.20" stroke="#000" stroke-width="2"/>
<line x1="226.27" y1="231.00" x2="226.27" y2="228.20" stroke="#000" stroke-width="2"/>
<line x1="323.08" y1="231.00" x2="323.08" y2="228.20" stroke="#000" stroke-width="2"/>
<text transform="translate(69.13,247.50) scale(0.9792,1)" font-size="16.45" font-weight="normal" fill="#000" stroke="#000" stroke-width="0.15" stroke-linejoin="round" font-family="Liberation Serif, serif">465</text>
<text transform="translate(165.94,247.50) scale(0.9895,1)" font-size="16.45" font-weight="normal" fill="#000" stroke="#000" stroke-width="0.15" stroke-linejoin="round" font-family="Liberation Serif, serif">462</text>
<text transform="translate(262.75,247.50) scale(0.9792,1)" font-size="16.45" font-weight="normal" fill="#000" stroke="#000" stroke-width="0.15" stroke-linejoin="round" font-family="Liberation Serif, serif">459</text>
<text transform="translate(359.76,247.50) scale(0.9725,1)" font-size="16.45" font-weight="normal" fill="#000" stroke="#000" stroke-width="0.15" stroke-linejoin="round" font-family="Liberation Serif, serif">456</text>
<text transform="translate(136.75,262.60) scale(1.0133,1)" font-size="16.12" font-weight="normal" fill="#000" stroke="#000" stroke-width="0.15" stroke-linejoin="round" font-family="Liberation Serif, serif">Binding energy (eV)</text>
<text transform="translate(16.00,171.69) rotate(-90) scale(1.0452,1)" font-size="16.00" font-weight="normal" fill="#000" stroke="#000" stroke-width="0.15" stroke-linejoin="round" font-family="Liberation Serif, serif">Intensity (a.u.)</text>
<text transform="translate(-0.46,15.20) scale(1.0581,1)" font-size="21.30" font-weight="normal" fill="#000" stroke="#000" stroke-width="0.15" stroke-linejoin="round" font-family="Liberation Serif, serif">(a)</text>
<text transform="translate(36.76,33.60) scale(1.0475,1)" font-size="21.44" font-weight="bold" fill="#000" stroke="#000" stroke-width="0.12" stroke-linejoin="round" font-family="Liberation Serif, serif">Ti 2p</text>
<path d="M120.3 25.4 C120.6 24.2 121.7 23.7 122.3 24.8 L125.0 31.4 C125.5 32.6 126.3 32.9 127.0 32.0" fill="none" stroke="#d81e20" stroke-width="1.25" stroke-linecap="round"/>
<path d="M126.4 24.1 L121.1 33.1" fill="none" stroke="#d81e20" stroke-width="0.8" stroke-linecap="round"/>
<text transform="translate(127.38,22.20) scale(1.0077,1)" font-size="7.40" font-weight="normal" fill="#d81e20" stroke="#d81e20" stroke-width="0.15" stroke-linejoin="round" font-family="Liberation Serif, serif">2</text>
<text transform="translate(130.43,30.40) scale(1.0248,1)" font-size="12.98" font-weight="normal" fill="#d81e20" stroke="#d81e20" stroke-width="0.15" stroke-linejoin="round" font-family="Liberation Serif, serif">=1.25</text>
<line x1="42.5" y1="55.5" x2="75.1" y2="55.5" stroke="#000" stroke-width="1.5"/>
<line x1="42.5" y1="73.6" x2="75.1" y2="73.6" stroke="#d81e20" stroke-width="1.5"/>
<text transform="translate(79.02,60.10) scale(1.0810,1)" font-size="12.95" font-weight="normal" fill="#000" stroke="#000" stroke-width="0.15" stroke-linejoin="round" font-family="Liberation Serif, serif">Raw data</text>
<text transform="translate(79.01,76.80) scale(1.0183,1)" font-size="13.89" font-weight="normal" fill="#000" stroke="#000" stroke-width="0.15" stroke-linejoin="round" font-family="Liberation Serif, serif">Fitting curve</text>
<text transform="translate(76.25,109.70) scale(0.9682,1)" font-size="17.27" font-weight="bold" fill="#000" stroke="#000" stroke-width="0.12" stroke-linejoin="round" font-family="Liberation Serif, serif">Ti 1/2p</text>
<text transform="translate(264.85,27.30) scale(1.0011,1)" font-size="16.83" font-weight="bold" fill="#000" stroke="#000" stroke-width="0.12" stroke-linejoin="round" font-family="Liberation Serif, serif">Ti 3/2p</text>
<text transform="translate(292.84,46.60) scale(1.0407,1)" font-size="14.34" font-weight="normal" fill="#000" stroke="#000" stroke-width="0.15" stroke-linejoin="round" font-family="Liberation Serif, serif">Ti</text>
<text transform="translate(305.54,37.80) scale(1.0420,1)" font-size="7.91" font-weight="normal" fill="#333" stroke="#333" stroke-width="0.15" stroke-linejoin="round" font-family="Liberation Serif, serif">4+</text>
<text transform="translate(317.71,46.60) scale(1.0136,1)" font-size="14.14" font-weight="normal" fill="#000" stroke="#000" stroke-width="0.15" stroke-linejoin="round" font-family="Liberation Serif, serif">458.3eV</text>
<text transform="translate(174.21,116.50) scale(1.0149,1)" font-size="16.15" font-weight="normal" fill="#000" stroke="#000" stroke-width="0.15" stroke-linejoin="round" font-family="Liberation Serif, serif">Ti</text>
<text transform="translate(188.19,107.90) scale(1.0790,1)" font-size="9.96" font-weight="normal" fill="#000" stroke="#000" stroke-width="0.15" stroke-linejoin="round" font-family="Liberation Serif, serif">3+</text>
<text transform="translate(199.27,116.40) scale(1.0205,1)" font-size="16.24" font-weight="normal" fill="#000" stroke="#000" stroke-width="0.15" stroke-linejoin="round" font-family="Liberation Serif, serif">457.8eV</text>
<text transform="translate(148.84,151.50) scale(0.9968,1)" font-size="15.09" font-weight="normal" fill="#000" stroke="#000" stroke-width="0.15" stroke-linejoin="round" font-family="Liberation Serif, serif">Ti</text>
<text transform="translate(161.57,143.70) scale(0.9456,1)" font-size="9.51" font-weight="normal" fill="#000" stroke="#000" stroke-width="0.15" stroke-linejoin="round" font-family="Liberation Serif, serif">3+</text>
<text transform="translate(174.62,151.60) scale(0.9204,1)" font-size="15.25" font-weight="normal" fill="#000" stroke="#000" stroke-width="0.15" stroke-linejoin="round" font-family="Liberation Serif, serif">463.3eV</text>
<text transform="translate(36.84,141.00) scale(1.0069,1)" font-size="14.94" font-weight="normal" fill="#000" stroke="#000" stroke-width="0.15" stroke-linejoin="round" font-family="Liberation Serif, serif">Ti</text>
<text transform="translate(49.42,133.00) scale(1.0738,1)" font-size="8.52" font-weight="normal" fill="#000" stroke="#000" stroke-width="0.15" stroke-linejoin="round" font-family="Liberation Serif, serif">4+</text>
<text transform="translate(62.62,141.20) scale(0.9394,1)" font-size="15.09" font-weight="normal" fill="#000" stroke="#000" stroke-width="0.15" stroke-linejoin="round" font-family="Liberation Serif, serif">464.3eV</text>
<line x1="319.50" y1="46.50" x2="286.20" y2="93.00" stroke="#000" stroke-width="1.3" marker-end="url(#ah)"/>
<line x1="256.00" y1="125.20" x2="295.20" y2="136.30" stroke="#000" stroke-width="1.3" marker-end="url(#ah)"/>
<line x1="58.00" y1="148.60" x2="86.60" y2="168.30" stroke="#000" stroke-width="1.3" marker-end="url(#ah)"/>
<line x1="158.00" y1="159.50" x2="126.50" y2="174.80" stroke="#000" stroke-width="1.3" marker-end="url(#ah)"/>
<line x1="285.60" y1="95.40" x2="285.60" y2="110.80" stroke="#000" stroke-width="1.4"/>
<line x1="298.80" y1="133.30" x2="298.80" y2="149.00" stroke="#000" stroke-width="1.4"/>
<line x1="89.90" y1="169.40" x2="89.90" y2="184.00" stroke="#000" stroke-width="1.4"/>
<line x1="124.30" y1="175.50" x2="124.30" y2="191.30" stroke="#000" stroke-width="1.4"/>
<path d="M445.50 203.46L445.95 202.61L446.40 204.11L446.85 205.39L447.30 207.61L447.75 207.05L448.20 207.86L448.65 207.50L449.10 209.66L449.55 208.81L450.00 208.36L450.45 208.90L450.90 209.20L451.35 210.21L451.80 208.32L452.25 209.00L452.70 209.76L453.15 212.55L453.60 211.30L454.05 210.51L454.50 211.41L454.95 212.78L455.40 210.88L455.85 210.92L456.30 212.50L456.75 212.01L457.20 212.32L457.65 211.41L458.10 213.75L458.55 213.71L459.00 212.82L459.45 213.08L459.90 210.78L460.35 213.32L460.80 212.72L461.25 213.42L461.70 213.78L462.15 213.00L462.60 211.92L463.05 213.91L463.50 213.04L463.95 213.54L464.40 213.43L464.85 213.79L465.30 212.15L465.75 215.45L466.20 214.71L466.65 215.60L467.10 216.51L467.55 214.87L468.00 213.35L468.45 214.28L468.90 214.12L469.35 214.87L469.80 215.51L470.25 213.75L470.70 215.97L471.15 214.42L471.60 216.16L472.05 215.90L472.50 215.82L472.95 216.15L473.40 215.84L473.85 215.88L474.30 215.02L474.75 216.61L475.20 218.40L475.65 218.62L476.10 218.13L476.55 217.67L477.00 216.53L477.45 218.53L477.90 217.28L478.35 217.36L478.80 217.26L479.25 217.69L479.70 217.31L480.15 217.72L480.60 216.91L481.05 217.64L481.50 220.12L481.95 218.09L482.40 218.02L482.85 218.80L483.30 219.05L483.75 217.49L484.20 218.39L484.65 219.49L485.10 218.98L485.55 218.93L486.00 220.30L486.45 218.37L486.90 219.13L487.35 218.67L487.80 220.56L488.25 217.53L488.70 218.76L489.15 218.96L489.60 220.11L490.05 220.13L490.50 220.91L490.95 218.31L491.40 220.47L491.85 219.61L492.30 219.34L492.75 220.49L493.20 219.25L493.65 218.27L494.10 219.87L494.55 218.92L495.00 219.75L495.45 220.73L495.90 220.74L496.35 221.95L496.80 220.41L497.25 219.27L497.70 220.03L498.15 219.94L498.60 219.73L499.05 221.27L499.50 220.36L499.95 219.21L500.40 221.68L500.85 221.00L501.30 221.48L501.75 221.30L502.20 221.83L502.65 221.34L503.10 222.47L503.55 221.79L504.00 221.81L504.45 221.87L504.90 220.23L505.35 221.43L505.80 221.38L506.25 221.84L506.70 220.46L507.15 223.18L507.60 221.82L508.05 220.64L508.50 220.18L508.95 221.44L509.40 221.55L509.85 220.87L510.30 221.39L510.75 220.30L511.20 220.25L511.65 216.03L512.10 210.47L512.55 205.88L512.60 207.24L513.00 208.05L513.45 215.32L513.90 218.78L514.35 221.75L514.80 220.61L515.25 221.54L515.70 222.16L516.15 221.46L516.60 221.60L517.05 222.13L517.50 220.75L517.95 221.40L518.40 222.40L518.85 222.96L519.30 222.71L519.75 221.32L520.20 222.55L520.65 223.73L521.10 223.55L521.55 223.02L522.00 222.32L522.45 223.73L522.90 222.67L523.35 222.17L523.80 222.54L524.25 224.59L524.70 223.52L525.15 224.39L525.60 222.94L526.05 224.25L526.50 222.89L526.95 223.31L527.40 225.72L527.85 224.19L528.30 223.07L528.75 223.47L529.20 223.86L529.65 224.68L530.10 223.17L530.55 222.06L531.00 223.39L531.45 223.67L531.90 223.77L532.35 224.87L532.80 223.98L533.25 224.43L533.70 222.72L534.15 224.50L534.60 225.60L535.05 224.42L535.50 223.95L535.95 223.85L536.40 225.31L536.85 222.86L537.30 223.58L537.75 224.07L538.20 224.30L538.65 223.21L539.10 223.84L539.55 223.27L540.00 223.58L540.45 223.29L540.90 222.31L541.35 223.23L541.80 223.94L542.25 222.17L542.70 222.70L543.15 223.37L543.60 221.65L544.05 222.59L544.50 221.26L544.95 222.99L545.40 223.79L545.85 223.22L546.30 220.86L546.75 221.33L547.20 220.33L547.65 219.81L548.10 220.53L548.55 217.28L549.00 218.63L549.45 216.71L549.90 216.91L550.35 214.47L550.80 212.04L551.25 210.83L551.70 208.61L552.15 204.54L552.60 200.32L553.05 192.88L553.50 181.29L553.95 165.16L554.40 119.96L554.85 44.85L554.90 43.28L555.30 103.43L555.75 157.30L556.20 179.53L556.65 191.44L557.10 199.83L557.55 202.50L558.00 208.50L558.45 209.66L558.90 211.43L559.35 215.29L559.80 215.46L560.25 215.50L560.70 217.24L561.15 219.05L561.60 219.53L562.05 217.01L562.50 213.83L562.95 209.92L563.00 208.68L563.40 213.40L563.85 218.51L564.30 220.61L564.75 221.60L565.20 222.61L565.65 222.95L566.10 222.72L566.55 223.10L567.00 224.70L567.45 224.08L567.90 224.86L568.35 225.29L568.80 224.87L569.25 226.51L569.70 223.83L570.15 225.50L570.60 224.42L571.05 226.75L571.50 226.66L571.95 222.95L572.40 224.03L572.85 225.77L573.30 225.95L573.75 225.95L574.20 225.15L574.65 225.74L575.10 225.98L575.55 225.26L576.00 226.44L576.45 223.07L576.90 226.09L577.35 224.39L577.80 226.48L578.25 225.27L578.70 224.61L579.15 225.94L579.60 224.63L580.05 224.65L580.50 223.99L580.95 225.60L581.40 226.15L581.85 226.71L582.30 225.51L582.75 226.75L583.20 225.69L583.65 225.58L584.10 226.26L584.55 226.75L585.00 225.29L585.45 225.35L585.90 225.37L586.35 225.50L586.80 224.24L587.25 225.79L587.70 223.57L588.15 223.42L588.60 220.94L589.05 221.40L589.50 221.62L589.95 221.77L590.40 225.47L590.85 224.74L591.30 226.85L591.75 226.40L592.20 224.94L592.65 225.35L593.10 226.27L593.55 225.94L594.00 225.97L594.45 225.65L594.90 224.10L595.35 225.76L595.80 223.72L596.25 226.42L596.70 225.29L597.15 225.31L597.60 225.84L598.05 226.35L598.50 224.59L598.95 224.27L599.40 224.97L599.85 223.96L600.30 225.07L600.75 227.71L601.20 224.95L601.65 226.69L602.10 224.57L602.55 226.25L603.00 225.54L603.45 225.70L603.90 226.18L604.35 227.11L604.80 224.73L605.25 221.52L605.70 211.57L606.00 208.85L606.15 209.19L606.60 219.51L607.05 222.91L607.50 224.88L607.95 219.32L608.40 217.84L608.85 215.13L609.30 211.83L609.75 213.52L610.20 218.14L610.65 220.42L611.10 224.06L611.55 227.51L612.00 226.66L612.45 224.58L612.90 224.99L613.35 225.58L613.80 227.12L614.25 225.30L614.70 225.49L615.15 227.16L615.60 227.17L616.05 225.92L616.50 225.17L616.95 224.75L617.40 225.65L617.85 224.08L618.30 227.18L618.75 225.77L619.20 226.93L619.65 228.37L620.10 227.67L620.55 225.27L621.00 227.37L621.45 227.68L621.90 225.71L622.35 225.51L622.80 226.39L623.25 224.85L623.70 228.04L624.15 224.03L624.60 225.38L625.05 226.25L625.50 226.30L625.95 226.72L626.40 226.83L626.85 226.33L627.30 227.73L627.75 224.35L628.20 226.56L628.65 225.83L629.10 226.71L629.55 226.80L630.00 225.63L630.45 225.92L630.90 227.40L631.35 226.94L631.80 225.88L632.25 228.69L632.70 228.97L633.15 225.07L633.60 226.89L634.05 229.17L634.50 227.37L634.95 226.78L635.40 226.32L635.85 225.95L636.30 226.26L636.75 225.86L637.20 227.12L637.65 225.78L638.10 225.35L638.55 223.59L639.00 222.87L639.45 219.75L639.70 219.99L639.90 221.58L640.35 223.04L640.80 225.20L641.25 226.12L641.70 226.25L642.15 226.24L642.60 226.14L643.05 227.30L643.50 225.43L643.95 227.97L644.40 226.64L644.85 225.84L645.30 226.12L645.75 225.94L646.20 226.82L646.65 225.91L647.10 227.84L647.55 225.86L648.00 224.32L648.45 225.91L648.90 224.59L649.35 226.63L649.80 227.77L650.25 227.34L650.70 225.28L651.15 225.88L651.60 228.50L652.05 226.98L652.50 226.65L652.95 227.73L653.40 229.16L653.85 227.95L654.30 226.73L654.75 226.92L655.20 227.15L655.65 225.82L656.10 225.25L656.55 226.22L657.00 224.83L657.45 225.12L657.90 224.31L658.35 225.43L658.80 221.07L659.25 221.63L659.70 222.41L660.15 224.23L660.60 225.91L661.05 225.03L661.50 225.09L661.95 224.42L662.40 225.22L662.85 226.72L663.30 226.13L663.75 224.87L664.20 225.21L664.65 224.99L665.10 223.67L665.55 215.53L666.00 199.78L666.20 194.36L666.45 200.66L666.90 219.11L667.35 221.28L667.80 224.78L668.25 225.97L668.70 225.69L669.15 225.44L669.60 226.34L670.05 226.48L670.50 226.46L670.95 224.65L671.40 226.48L671.85 225.77L672.30 226.11L672.75 226.93L673.20 227.37L673.65 227.65L674.10 226.22L674.55 227.69L675.00 227.96L675.45 227.93L675.90 228.19L676.35 226.60L676.80 226.58L677.25 227.61L677.70 225.34L678.15 226.97L678.60 226.20L679.05 226.36L679.50 224.93L679.95 225.80L680.40 226.68L680.85 227.60L681.30 227.67L681.75 226.50L682.20 226.30L682.65 225.48L683.10 226.35L683.55 224.49L684.00 222.73L684.45 220.93L684.60 218.78L684.90 218.36L685.35 222.25L685.80 223.76L686.25 224.87L686.70 227.75L687.15 226.76L687.60 225.02L688.05 227.31L688.50 227.97L688.95 226.31L689.40 225.99L689.85 226.35L690.30 227.00L690.75 227.36L691.20 227.92L691.65 227.94L692.10 227.90L692.55 228.07L693.00 227.32L693.45 225.02L693.90 226.44L694.35 226.86L694.80 226.09L695.25 227.36L695.70 225.94L696.15 225.21L696.60 227.43L697.05 226.26L697.50 225.22L697.95 225.11L698.40 224.10L698.85 221.93L699.30 217.47L699.75 217.94L700.20 217.46L700.65 217.20L701.10 219.57L701.55 222.13L702.00 221.91L702.45 222.52L702.90 226.77L703.35 224.89L703.80 224.54L704.25 226.35L704.70 226.73L705.15 225.68L705.60 227.31L706.05 226.05L706.50 225.65L706.95 226.83L707.40 227.47L707.85 226.05L708.30 227.07L708.75 226.65L709.20 229.69L709.65 226.05L710.10 228.23L710.55 226.75L711.00 226.68L711.45 227.57L711.90 227.76L712.35 228.15L712.80 227.19L713.25 226.23L713.70 226.30L714.15 227.39L714.60 227.47L715.05 228.32L715.50 227.31L715.95 227.98L716.40 228.45L716.85 227.06L717.30 225.35L717.75 225.67L718.20 225.41L718.65 228.54L719.10 226.02L719.55 228.18L720.00 227.51L720.45 228.68L720.90 227.94L721.35 226.80L721.80 226.70L722.25 227.00L722.70 227.09L723.15 226.36L723.60 226.88L724.05 228.58L724.50 225.15L724.95 227.18L725.40 225.98L725.85 227.11L726.30 227.79L726.75 226.86L727.20 227.72L727.65 225.27L728.10 228.07L728.55 226.30L729.00 227.56L729.45 227.11L729.90 224.24L730.35 226.14L730.80 227.15L731.25 228.53L731.70 227.21L732.15 227.18L732.60 225.45L733.05 228.39L733.50 228.78L733.95 226.93L734.40 226.67L734.85 225.21L735.30 227.79L735.75 229.66L736.20 227.59L736.65 228.13L737.10 227.36L737.55 225.73L738.00 228.05L738.45 225.25L738.90 225.96L739.35 225.42L739.80 223.74L740.25 220.64L740.40 220.35L740.70 220.12L741.15 222.40L741.60 225.67L742.05 225.60L742.50 225.24L742.95 225.39L743.40 226.26L743.85 224.89L744.30 225.44L744.75 225.17L745.20 227.06L745.65 227.31L746.10 228.97L746.55 225.35L747.00 226.20L747.45 227.85L747.90 226.69L748.35 226.58L748.80 228.69L749.25 226.57L749.70 225.72L750.15 225.56L750.60 227.26L751.05 227.23L751.50 225.49L751.95 225.89L752.40 227.46L752.85 227.50L753.30 226.23L753.75 227.53L754.20 227.47L754.65 225.02L755.10 226.53L755.55 227.26L756.00 226.21L756.45 224.55L756.90 226.40L757.35 227.35L757.80 227.97L758.25 223.66L758.70 228.00L759.15 223.33L759.60 224.74L760.05 224.75L760.50 224.91L760.95 224.84L761.40 224.26L761.85 226.68L762.30 225.66L762.75 224.00L763.20 229.65L763.65 227.51L764.10 228.70" fill="none" stroke="#000" stroke-width="1.9" stroke-linejoin="round"/>
<rect x="444.30" y="11.80" width="321.10" height="220.20" fill="none" stroke="#000" stroke-width="2.4"/>
<line x1="444.30" y1="232.30" x2="448.10" y2="232.30" stroke="#000" stroke-width="2"/>
<text transform="translate(432.61,235.90) scale(0.9825,1)" font-size="16.69" font-weight="normal" fill="#000" stroke="#000" stroke-width="0.15" stroke-linejoin="round" font-family="Liberation Serif, serif">0</text>
<line x1="444.30" y1="217.59" x2="446.70" y2="217.59" stroke="#000" stroke-width="2"/>
<line x1="444.30" y1="202.87" x2="448.10" y2="202.87" stroke="#000" stroke-width="2"/>
<text transform="translate(424.41,206.47) scale(0.9825,1)" font-size="16.69" font-weight="normal" fill="#000" stroke="#000" stroke-width="0.15" stroke-linejoin="round" font-family="Liberation Serif, serif">10</text>
<line x1="444.30" y1="188.16" x2="446.70" y2="188.16" stroke="#000" stroke-width="2"/>
<line x1="444.30" y1="173.44" x2="448.10" y2="173.44" stroke="#000" stroke-width="2"/>
<text transform="translate(424.41,177.04) scale(0.9825,1)" font-size="16.69" font-weight="normal" fill="#000" stroke="#000" stroke-width="0.15" stroke-linejoin="round" font-family="Liberation Serif, serif">20</text>
<line x1="444.30" y1="158.73" x2="446.70" y2="158.73" stroke="#000" stroke-width="2"/>
<line x1="444.30" y1="144.01" x2="448.10" y2="144.01" stroke="#000" stroke-width="2"/>
<text transform="translate(424.42,147.61) scale(0.9825,1)" font-size="16.69" font-weight="normal" fill="#000" stroke="#000" stroke-width="0.15" stroke-linejoin="round" font-family="Liberation Serif, serif">30</text>
<line x1="444.30" y1="129.30" x2="446.70" y2="129.30" stroke="#000" stroke-width="2"/>
<line x1="444.30" y1="114.58" x2="448.10" y2="114.58" stroke="#000" stroke-width="2"/>
<text transform="translate(424.42,118.18) scale(0.9825,1)" font-size="16.69" font-weight="normal" fill="#000" stroke="#000" stroke-width="0.15" stroke-linejoin="round" font-family="Liberation Serif, serif">40</text>
<line x1="444.30" y1="99.87" x2="446.70" y2="99.87" stroke="#000" stroke-width="2"/>
<line x1="444.30" y1="85.15" x2="448.10" y2="85.15" stroke="#000" stroke-width="2"/>
<text transform="translate(424.42,88.75) scale(0.9825,1)" font-size="16.69" font-weight="normal" fill="#000" stroke="#000" stroke-width="0.15" stroke-linejoin="round" font-family="Liberation Serif, serif">50</text>
<line x1="444.30" y1="70.44" x2="446.70" y2="70.44" stroke="#000" stroke-width="2"/>
<line x1="444.30" y1="55.72" x2="448.10" y2="55.72" stroke="#000" stroke-width="2"/>
<text transform="translate(424.41,59.32) scale(0.9825,1)" font-size="16.69" font-weight="normal" fill="#000" stroke="#000" stroke-width="0.15" stroke-linejoin="round" font-family="Liberation Serif, serif">60</text>
<line x1="444.30" y1="41.00" x2="446.70" y2="41.00" stroke="#000" stroke-width="2"/>
<line x1="444.30" y1="26.29" x2="448.10" y2="26.29" stroke="#000" stroke-width="2"/>
<text transform="translate(424.42,29.89) scale(0.9825,1)" font-size="16.69" font-weight="normal" fill="#000" stroke="#000" stroke-width="0.15" stroke-linejoin="round" font-family="Liberation Serif, serif">70</text>
<line x1="460.80" y1="232.00" x2="460.80" y2="229.60" stroke="#000" stroke-width="2"/>
<line x1="494.60" y1="232.00" x2="494.60" y2="228.20" stroke="#000" stroke-width="2"/>
<text transform="translate(486.36,248.90) scale(0.9825,1)" font-size="16.69" font-weight="normal" fill="#000" stroke="#000" stroke-width="0.15" stroke-linejoin="round" font-family="Liberation Serif, serif">20</text>
<line x1="528.40" y1="232.00" x2="528.40" y2="229.60" stroke="#000" stroke-width="2"/>
<line x1="562.20" y1="232.00" x2="562.20" y2="228.20" stroke="#000" stroke-width="2"/>
<text transform="translate(554.14,248.90) scale(0.9825,1)" font-size="16.69" font-weight="normal" fill="#000" stroke="#000" stroke-width="0.15" stroke-linejoin="round" font-family="Liberation Serif, serif">40</text>
<line x1="596.00" y1="232.00" x2="596.00" y2="229.60" stroke="#000" stroke-width="2"/>
<line x1="629.80" y1="232.00" x2="629.80" y2="228.20" stroke="#000" stroke-width="2"/>
<text transform="translate(621.56,248.90) scale(0.9825,1)" font-size="16.69" font-weight="normal" fill="#000" stroke="#000" stroke-width="0.15" stroke-linejoin="round" font-family="Liberation Serif, serif">60</text>
<line x1="663.60" y1="232.00" x2="663.60" y2="229.60" stroke="#000" stroke-width="2"/>
<line x1="697.40" y1="232.00" x2="697.40" y2="228.20" stroke="#000" stroke-width="2"/>
<text transform="translate(689.20,248.90) scale(0.9825,1)" font-size="16.69" font-weight="normal" fill="#000" stroke="#000" stroke-width="0.15" stroke-linejoin="round" font-family="Liberation Serif, serif">80</text>
<line x1="731.20" y1="232.00" x2="731.20" y2="229.60" stroke="#000" stroke-width="2"/>
<line x1="765.00" y1="232.00" x2="765.00" y2="228.20" stroke="#000" stroke-width="2"/>
<text transform="translate(752.29,248.90) scale(0.9825,1)" font-size="16.69" font-weight="normal" fill="#000" stroke="#000" stroke-width="0.15" stroke-linejoin="round" font-family="Liberation Serif, serif">100</text>
<text transform="translate(548.60,264.40) scale(0.9596,1)" font-size="17.12" font-weight="normal" fill="#000" stroke="#000" stroke-width="0.15" stroke-linejoin="round" font-family="Liberation Serif, serif">2 Theta (Degree)</text>
<text transform="translate(408.50,171.73) rotate(-90) scale(1.0485,1)" font-size="15.90" font-weight="normal" fill="#000" stroke="#000" stroke-width="0.15" stroke-linejoin="round" font-family="Liberation Serif, serif">SQR (counts)</text>
<text transform="translate(392.60,15.20) scale(1.0998,1)" font-size="21.30" font-weight="normal" fill="#000" stroke="#000" stroke-width="0.15" stroke-linejoin="round" font-family="Liberation Serif, serif">(b)</text>
<text transform="translate(623.77,34.70) scale(1.0732,1)" font-size="15.25" font-weight="normal" fill="#000" stroke="#000" stroke-width="0.15" stroke-linejoin="round" font-family="Liberation Serif, serif">JCPDS File 21-1272</text>
<circle cx="660.4" cy="64.6" r="2.5" fill="#1b1b78"/>
<text transform="translate(663.81,68.60) scale(1.0209,1)" font-size="16.12" font-weight="normal" fill="#1b1b78" stroke="#1b1b78" stroke-width="0.15" stroke-linejoin="round" font-family="Liberation Serif, serif">Ti substrate</text>
<text transform="translate(558.10,43.83) rotate(-90) scale(1.1961,1)" font-size="12.30" font-weight="normal" fill="#da1e1e" stroke="#da1e1e" stroke-width="0.15" stroke-linejoin="round" font-family="Liberation Serif, serif">(004)</text>
<text transform="translate(514.60,202.59) rotate(-90) scale(1.1757,1)" font-size="11.90" font-weight="normal" fill="#da1e1e" stroke="#da1e1e" stroke-width="0.15" stroke-linejoin="round" font-family="Liberation Serif, serif">(101)</text>
<text transform="translate(592.40,213.98) rotate(-90) scale(1.1514,1)" font-size="11.90" font-weight="normal" fill="#da1e1e" stroke="#da1e1e" stroke-width="0.15" stroke-linejoin="round" font-family="Liberation Serif, serif">(200)</text>
<text transform="translate(614.70,205.29) rotate(-90) scale(1.1757,1)" font-size="11.90" font-weight="normal" fill="#da1e1e" stroke="#da1e1e" stroke-width="0.15" stroke-linejoin="round" font-family="Liberation Serif, serif">(105)</text>
<text transform="translate(658.90,217.24) rotate(-90) scale(1.2713,1)" font-size="11.90" font-weight="normal" fill="#da1e1e" stroke="#da1e1e" stroke-width="0.15" stroke-linejoin="round" font-family="Liberation Serif, serif">(116)</text>
<circle cx="563.00" cy="203.20" r="2.3" fill="#1c1c7a"/>
<circle cx="605.70" cy="206.80" r="2.3" fill="#1c1c7a"/>
<circle cx="639.00" cy="211.50" r="2.3" fill="#1c1c7a"/>
<circle cx="666.40" cy="189.80" r="2.3" fill="#1c1c7a"/>
<path d="M622.5 168.3 L638.3 156.6 L685 156.6 L701 179 L657.5 179 L641.2 191.5 Z" fill="url(#refl)" filter="url(#bl)"/>
<path d="M702 136 L711 129 L714 141 L703 153 Z" fill="#fbeab0" opacity="0.6" filter="url(#bl)"/>
<g stroke="#4e5a5e" stroke-width="0.9" stroke-linejoin="round">
<path d="M641.2 120.1 L657.6 106.3 L704.7 106.4 L719.3 119.1 L705.3 131.8 L657.5 132.4 Z" fill="#f2e23e"/>
<path d="M701 132.6 L708 131 L690 152.5 L685 155.8 Z" fill="url(#rf)"/>
<path d="M641.2 120.1 L657.5 132.4 L638.3 155.8 L622.5 143.3 Z" fill="url(#lf)"/>
<path d="M657.5 132.4 L701 132.6 L685 155.8 L638.3 155.8 Z" fill="url(#ff)"/>
</g>
<line x1="638.3" y1="156.2" x2="685" y2="156.2" stroke="#6a6a50" stroke-width="0.8" opacity="0.6"/>
<line x1="704.7" y1="107.7" x2="685.6" y2="129.3" stroke="#7f9a3a" stroke-width="0.6" stroke-dasharray="1.6 1.2"/>
<text transform="translate(667.02,120.70) scale(1.0271,1)" font-size="11.00" font-weight="normal" fill="#2b2a12" stroke="#2b2a12" stroke-width="0.15" stroke-linejoin="round" font-family="Liberation Serif, serif">(004)</text>
<text transform="translate(653.10,149.30) scale(1.0284,1)" font-size="11.50" font-weight="normal" fill="#2b2a12" stroke="#2b2a12" stroke-width="0.15" stroke-linejoin="round" font-family="Liberation Serif, serif">(220)</text>
<text transform="translate(631.6,131.6) rotate(42) scale(1.02,1)" font-size="9.8" fill="#2b2a12" font-family="Liberation Serif, serif">101)</text>
<text transform="translate(651.4,116.0) rotate(45)" font-size="8.2" fill="#2b2a12" font-family="Liberation Serif, serif">90</text>
<circle cx="661.6" cy="119.4" r="0.65" fill="none" stroke="#2b2a12" stroke-width="0.45"/>
<text transform="translate(693.4,129.6) rotate(-18)" font-size="8.5" fill="#2b2a12" font-family="Liberation Serif, serif">270</text>
<text transform="translate(705,121.5) rotate(-18)" font-size="5" fill="#2b2a12" font-family="Liberation Serif, serif">o</text>
<path d="M645.2 118.6 L648.2 121.2 L651.2 118.0" fill="none" stroke="#5a5a30" stroke-width="0.6"/>
<path d="M696 131.5 q5 -2.5 9.5 -2.5" fill="none" stroke="#6a6a40" stroke-width="0.5"/>
<text transform="translate(613.10,100.50) scale(1.0664,1)" font-size="11.00" font-weight="normal" fill="#000" stroke="#000" stroke-width="0.15" stroke-linejoin="round" font-family="Liberation Serif, serif">(200)</text>
<line x1="632.1" y1="104.2" x2="644.6" y2="114.6" stroke="#000" stroke-width="1" marker-end="url(#ah)"/>
<line x1="730.5" y1="149.3" x2="729.80" y2="132.60" stroke="#444" stroke-width="0.8" marker-end="url(#ah)"/>
<line x1="730.5" y1="149.3" x2="718.00" y2="157.70" stroke="#444" stroke-width="0.8" marker-end="url(#ah)"/>
<line x1="730.5" y1="149.3" x2="742.70" y2="160.20" stroke="#444" stroke-width="0.8" marker-end="url(#ah)"/>
<text transform="translate(733.09,135.20) scale(1.2235,1)" font-size="8.94" font-weight="normal" fill="#222"  font-family="Liberation Serif, serif">c</text>
<text transform="translate(711.55,160.60) scale(1.0792,1)" font-size="9.15" font-weight="normal" fill="#222"  font-family="Liberation Serif, serif">a</text>
<text transform="translate(746.20,160.20) scale(1.0018,1)" font-size="9.50" font-weight="normal" fill="#222"  font-family="Liberation Serif, serif">b</text>
</svg>
</body></html>
